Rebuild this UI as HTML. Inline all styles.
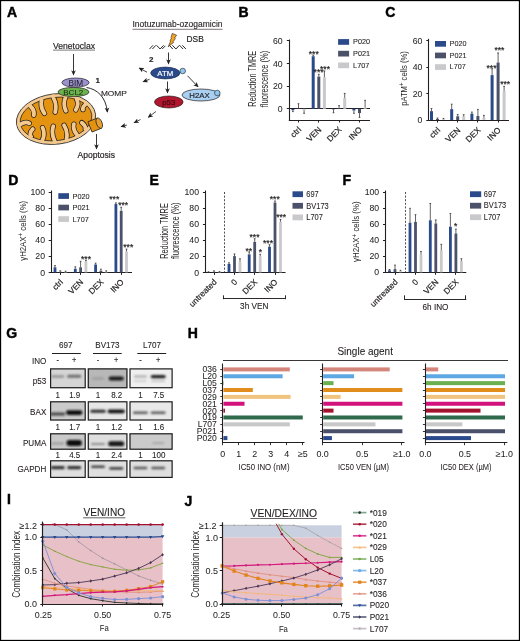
<!DOCTYPE html><html><head><meta charset="utf-8"><style>html,body{margin:0;padding:0;background:#fff;}svg{display:block;will-change:transform;}text{font-family:"Liberation Sans",sans-serif;}</style></head><body>
<svg width="520" height="641" viewBox="0 0 520 641">
<rect x="0" y="0" width="520" height="641" fill="#fff"/>
<defs>
<marker id="ah" viewBox="0 0 10 10" refX="8" refY="5" markerWidth="5.2" markerHeight="5.2" orient="auto" markerUnits="userSpaceOnUse"><path d="M0,0.5 L10,5 L0,9.5 L2.5,5 z" fill="#231f20"/></marker>
<marker id="ahs" viewBox="0 0 10 10" refX="8" refY="5" markerWidth="5.4" markerHeight="5.4" orient="auto" markerUnits="userSpaceOnUse"><path d="M0,0.5 L10,5 L0,9.5 L2.5,5 z" fill="#231f20"/></marker>
</defs>
<text x="7.00" y="17.40" font-size="14" text-anchor="start" fill="#000" stroke="#000" stroke-width="0.45" font-weight="bold" >A</text>
<text x="53.00" y="48.80" font-size="8.6" text-anchor="start" fill="#231f20" stroke="#231f20" stroke-width="0.18" textLength="42" lengthAdjust="spacingAndGlyphs" >Venetoclax</text>
<line x1="53.00" y1="50.10" x2="95.00" y2="50.10" stroke="#231f20" stroke-width="0.6" />
<line x1="73.50" y1="54.00" x2="73.50" y2="74.50" stroke="#231f20" stroke-width="0.9" marker-end="url(#ah)"/>
<defs><clipPath id="mitoIn"><ellipse cx="56.0" cy="119.0" rx="36.0" ry="21.599999999999998"/></clipPath><clipPath id="mitoOut"><ellipse cx="56.0" cy="119.0" rx="39.3" ry="24.7"/></clipPath></defs>
<g transform="rotate(-7 56.0 119.0)">
<ellipse cx="56.0" cy="119.0" rx="39.8" ry="25.2" fill="#f3c98f" stroke="#231f20" stroke-width="0.8"/>
<ellipse cx="56.0" cy="119.0" rx="36.0" ry="21.599999999999998" fill="#e3930f" stroke="#231f20" stroke-width="0.75"/>
<path d="M30.33,101.04 L32.00,102.90 Q36.20,107.73 34.40,112.56 M43.17,96.28 L44.00,98.64 Q41.60,105.36 45.20,112.08 M56.00,94.90 L56.00,97.40 Q59.00,104.74 56.00,112.09 M68.83,96.28 L68.00,98.64 Q64.40,105.36 66.80,112.08 M80.60,100.46 L79.00,102.38 Q80.85,107.37 76.70,112.35 M89.15,106.75 L87.00,108.02 Q83.45,110.49 83.90,112.96 M27.12,134.94 L29.00,133.29 Q27.35,129.72 31.70,126.14 M38.89,140.59 L40.00,138.35 Q43.80,132.16 41.60,125.97 M51.72,142.95 L52.00,140.47 Q49.20,133.17 52.40,125.87 M64.56,142.50 L64.00,140.06 Q66.60,133.11 63.20,126.16 M76.32,139.47 L75.00,137.35 Q71.05,131.84 73.10,126.34 M85.94,134.15 L84.00,132.58 Q84.60,129.18 81.20,125.79 M18.00,121.00 Q25.00,117.00 29.00,120.00" fill="none" stroke="#231f20" stroke-width="5.3" stroke-linecap="round" clip-path="url(#mitoIn)"/>
<path d="M30.33,101.04 L32.00,102.90 Q36.20,107.73 34.40,112.56 M43.17,96.28 L44.00,98.64 Q41.60,105.36 45.20,112.08 M56.00,94.90 L56.00,97.40 Q59.00,104.74 56.00,112.09 M68.83,96.28 L68.00,98.64 Q64.40,105.36 66.80,112.08 M80.60,100.46 L79.00,102.38 Q80.85,107.37 76.70,112.35 M89.15,106.75 L87.00,108.02 Q83.45,110.49 83.90,112.96 M27.12,134.94 L29.00,133.29 Q27.35,129.72 31.70,126.14 M38.89,140.59 L40.00,138.35 Q43.80,132.16 41.60,125.97 M51.72,142.95 L52.00,140.47 Q49.20,133.17 52.40,125.87 M64.56,142.50 L64.00,140.06 Q66.60,133.11 63.20,126.16 M76.32,139.47 L75.00,137.35 Q71.05,131.84 73.10,126.34 M85.94,134.15 L84.00,132.58 Q84.60,129.18 81.20,125.79 M18.00,121.00 Q25.00,117.00 29.00,120.00" fill="none" stroke="#f3c98f" stroke-width="3.8" stroke-linecap="round" clip-path="url(#mitoOut)"/>
</g>
<g transform="rotate(-22 96 124.5)">
<rect x="89.5" y="119" width="10" height="11" fill="#e3930f" stroke="#231f20" stroke-width="0.75"/>
<ellipse cx="99.5" cy="124.5" rx="2.8" ry="5.5" fill="#e8a030" stroke="#231f20" stroke-width="0.75"/>
</g>
<ellipse cx="73.5" cy="92" rx="15.5" ry="4.6" fill="#6cb34e" stroke="#231f20" stroke-width="0.7"/>
<text x="73.30" y="95.30" font-size="8.0" text-anchor="middle" fill="#1c2a14" stroke="#1c2a14" stroke-width="0.08" >BCL2</text>
<ellipse cx="75.5" cy="82.6" rx="13.6" ry="4.6" fill="#9a92cf" stroke="#231f20" stroke-width="0.7"/>
<text x="75.90" y="85.60" font-size="8.2" text-anchor="middle" fill="#231f20" stroke="#231f20" stroke-width="0.08" >BIM</text>
<text x="95.60" y="83.20" font-size="8" text-anchor="start" fill="#231f20" stroke="#231f20" stroke-width="0.18" font-weight="bold" >1</text>
<text x="100.90" y="95.50" font-size="8.0" text-anchor="start" fill="#231f20" stroke="#231f20" stroke-width="0.12" textLength="26" lengthAdjust="spacingAndGlyphs" >MOMP</text>
<path d="M86.5,87.5 C97,89 106,97 107.3,111.8" fill="none" stroke="#231f20" stroke-width="0.95" marker-end="url(#ah)"/>
<line x1="96.50" y1="134.00" x2="96.50" y2="148.50" stroke="#231f20" stroke-width="0.9" marker-end="url(#ah)"/>
<text x="77.50" y="157.60" font-size="8.6" text-anchor="start" fill="#231f20" stroke="#231f20" stroke-width="0.18" textLength="37.5" lengthAdjust="spacingAndGlyphs" >Apoptosis</text>
<text x="132.50" y="27.20" font-size="8.6" text-anchor="start" fill="#231f20" stroke="#231f20" stroke-width="0.12" textLength="90" lengthAdjust="spacingAndGlyphs" >Inotuzumab-ozogamicin</text>
<line x1="132.50" y1="29.30" x2="222.50" y2="29.30" stroke="#231f20" stroke-width="0.6" />
<path d="M172.3,33.4 L176.6,35.2 L174.6,38.0 L175.4,38.6 L173.0,41.8 L173.6,42.4 L168.2,46.8 L170.4,41.6 L169.8,41.0 L171.6,38.0 L171.0,37.4 Z" fill="#f2a31f" stroke="#231f20" stroke-width="0.6" stroke-linejoin="round"/>
<path d="M149.5,49 L153,45.3 M152.4,49 L155.9,45.3 M156.6,45.3 L160.1,49 L163.6,45.3 M162.2,49 L165.4,45.8 M169.6,45.6 L172.8,49 M172.4,45.3 L175.9,49 L179.4,45.3 M179.6,45.3 L183.1,49 M182.4,45.3 L185.9,49" fill="none" stroke="#231f20" stroke-width="0.95"/>
<text x="186.50" y="41.80" font-size="8.4" text-anchor="start" fill="#231f20" stroke="#231f20" stroke-width="0.18" >DSB</text>
<line x1="168.50" y1="52.50" x2="168.50" y2="63.50" stroke="#231f20" stroke-width="0.9" marker-end="url(#ah)"/>
<text x="148.90" y="62.00" font-size="8" text-anchor="start" fill="#231f20" stroke="#231f20" stroke-width="0.18" font-weight="bold" >2</text>
<ellipse cx="165.3" cy="73" rx="14.6" ry="5.9" fill="#2b4a8b" stroke="#1a2b50" stroke-width="0.7"/>
<text x="165.30" y="75.90" font-size="7.8" text-anchor="middle" fill="#ffffff" stroke="#ffffff" stroke-width="0.18" >ATM</text>
<circle cx="182.7" cy="71" r="2.8" fill="#8ec7ef" stroke="#231f20" stroke-width="0.6"/>
<path d="M147,72.2 L139.5,68.2" fill="none" stroke="#231f20" stroke-width="0.85" marker-end="url(#ahs)"/>
<path d="M149.5,79.3 L143.5,81.6" fill="none" stroke="#231f20" stroke-width="0.85" marker-end="url(#ahs)"/>
<line x1="167.50" y1="81.50" x2="167.50" y2="92.50" stroke="#231f20" stroke-width="0.9" marker-end="url(#ah)"/>
<line x1="187.50" y1="75.80" x2="197.80" y2="86.50" stroke="#231f20" stroke-width="0.9" marker-end="url(#ah)"/>
<ellipse cx="168.8" cy="102" rx="14.3" ry="6" fill="#b2172f" stroke="#231f20" stroke-width="0.7"/>
<text x="168.80" y="104.90" font-size="7.8" text-anchor="middle" fill="#3a0a12" stroke="#3a0a12" stroke-width="0.18" >p53</text>
<ellipse cx="201" cy="95" rx="19" ry="6" fill="#a9cff2" stroke="#231f20" stroke-width="0.7"/>
<text x="199.50" y="97.90" font-size="7.8" text-anchor="middle" fill="#231f20" stroke="#231f20" stroke-width="0.18" >H2AX</text>
<circle cx="217.3" cy="93" r="2.8" fill="#8ec7ef" stroke="#231f20" stroke-width="0.6"/>
<path d="M156,111.5 L148.5,117" fill="none" stroke="#231f20" stroke-width="0.8" marker-end="url(#ahs)"/>
<path d="M140.5,119.5 L134.5,122.5" fill="none" stroke="#231f20" stroke-width="0.8" marker-end="url(#ahs)"/>
<path d="M127,125 L121.5,126.5" fill="none" stroke="#231f20" stroke-width="0.8" marker-end="url(#ahs)"/>
<text x="238.50" y="17.20" font-size="14" text-anchor="start" fill="#000" stroke="#000" stroke-width="0.45" font-weight="bold" >B</text>
<line x1="289.50" y1="39.50" x2="289.50" y2="120.50" stroke="#231f20" stroke-width="1.1" />
<line x1="288.80" y1="120.50" x2="370.00" y2="120.50" stroke="#231f20" stroke-width="1.1" />
<line x1="289.30" y1="108.50" x2="370.00" y2="108.50" stroke="#231f20" stroke-width="1.1" />
<line x1="286.80" y1="108.50" x2="289.30" y2="108.50" stroke="#231f20" stroke-width="1" />
<text x="282.60" y="111.90" font-size="8.7" text-anchor="end" fill="#231f20" stroke="#231f20" stroke-width="0.05" >0</text>
<line x1="286.80" y1="86.50" x2="289.30" y2="86.50" stroke="#231f20" stroke-width="1" />
<text x="282.60" y="89.30" font-size="8.7" text-anchor="end" fill="#231f20" stroke="#231f20" stroke-width="0.05" >20</text>
<line x1="286.80" y1="63.50" x2="289.30" y2="63.50" stroke="#231f20" stroke-width="1" />
<text x="282.60" y="66.70" font-size="8.7" text-anchor="end" fill="#231f20" stroke="#231f20" stroke-width="0.05" >40</text>
<line x1="286.80" y1="40.50" x2="289.30" y2="40.50" stroke="#231f20" stroke-width="1" />
<text x="282.60" y="44.10" font-size="8.7" text-anchor="end" fill="#231f20" stroke="#231f20" stroke-width="0.05" >60</text>
<line x1="298.50" y1="120.00" x2="298.50" y2="122.50" stroke="#231f20" stroke-width="1" />
<rect x="291.40" y="108.80" width="3.00" height="1.36" fill="#2b4a8b" />
<line x1="292.90" y1="110.16" x2="292.90" y2="111.62" stroke="#231f20" stroke-width="0.7" />
<line x1="292.00" y1="111.62" x2="293.80" y2="111.62" stroke="#231f20" stroke-width="0.7" />
<rect x="297.00" y="108.46" width="3.00" height="0.34" fill="#4b5169" />
<line x1="298.50" y1="108.46" x2="298.50" y2="103.72" stroke="#231f20" stroke-width="0.7" />
<line x1="297.60" y1="103.72" x2="299.40" y2="103.72" stroke="#231f20" stroke-width="0.7" />
<rect x="302.60" y="108.80" width="3.00" height="1.70" fill="#c9c9cc" />
<line x1="304.10" y1="110.50" x2="304.10" y2="113.32" stroke="#231f20" stroke-width="0.7" />
<line x1="303.20" y1="113.32" x2="305.00" y2="113.32" stroke="#231f20" stroke-width="0.7" />
<line x1="318.50" y1="120.00" x2="318.50" y2="122.50" stroke="#231f20" stroke-width="1" />
<rect x="311.70" y="56.25" width="3.00" height="52.55" fill="#2b4a8b" />
<line x1="313.20" y1="56.25" x2="313.20" y2="55.12" stroke="#231f20" stroke-width="0.7" />
<line x1="312.30" y1="55.12" x2="314.10" y2="55.12" stroke="#231f20" stroke-width="0.7" />
<rect x="317.30" y="76.59" width="3.00" height="32.20" fill="#4b5169" />
<line x1="318.80" y1="76.59" x2="318.80" y2="74.33" stroke="#231f20" stroke-width="0.7" />
<line x1="317.90" y1="74.33" x2="319.70" y2="74.33" stroke="#231f20" stroke-width="0.7" />
<rect x="322.90" y="77.39" width="3.00" height="31.41" fill="#c9c9cc" />
<line x1="324.40" y1="77.39" x2="324.40" y2="70.94" stroke="#231f20" stroke-width="0.7" />
<line x1="323.50" y1="70.94" x2="325.30" y2="70.94" stroke="#231f20" stroke-width="0.7" />
<line x1="339.50" y1="120.00" x2="339.50" y2="122.50" stroke="#231f20" stroke-width="1" />
<rect x="332.00" y="108.80" width="3.00" height="0.56" fill="#2b4a8b" />
<line x1="333.50" y1="109.36" x2="333.50" y2="112.75" stroke="#231f20" stroke-width="0.7" />
<line x1="332.60" y1="112.75" x2="334.40" y2="112.75" stroke="#231f20" stroke-width="0.7" />
<rect x="337.60" y="108.12" width="3.00" height="0.68" fill="#4b5169" />
<line x1="339.10" y1="108.12" x2="339.10" y2="105.64" stroke="#231f20" stroke-width="0.7" />
<line x1="338.20" y1="105.64" x2="340.00" y2="105.64" stroke="#231f20" stroke-width="0.7" />
<rect x="343.20" y="98.06" width="3.00" height="10.73" fill="#c9c9cc" />
<line x1="344.70" y1="98.06" x2="344.70" y2="93.43" stroke="#231f20" stroke-width="0.7" />
<line x1="343.80" y1="93.43" x2="345.60" y2="93.43" stroke="#231f20" stroke-width="0.7" />
<line x1="359.50" y1="120.00" x2="359.50" y2="122.50" stroke="#231f20" stroke-width="1" />
<rect x="352.40" y="108.80" width="3.00" height="1.70" fill="#2b4a8b" />
<line x1="353.90" y1="110.50" x2="353.90" y2="113.32" stroke="#231f20" stroke-width="0.7" />
<line x1="353.00" y1="113.32" x2="354.80" y2="113.32" stroke="#231f20" stroke-width="0.7" />
<rect x="358.00" y="108.80" width="3.00" height="4.29" fill="#4b5169" />
<line x1="359.50" y1="113.09" x2="359.50" y2="117.39" stroke="#231f20" stroke-width="0.7" />
<line x1="358.60" y1="117.39" x2="360.40" y2="117.39" stroke="#231f20" stroke-width="0.7" />
<rect x="363.60" y="107.67" width="3.00" height="1.13" fill="#c9c9cc" />
<line x1="365.10" y1="107.67" x2="365.10" y2="100.32" stroke="#231f20" stroke-width="0.7" />
<line x1="364.20" y1="100.32" x2="366.00" y2="100.32" stroke="#231f20" stroke-width="0.7" />
<rect x="338.10" y="39.10" width="11.00" height="5.70" fill="#2b4a8b" />
<text x="353.10" y="44.20" font-size="7.3" text-anchor="start" fill="#231f20" stroke="#231f20" stroke-width="0.08" >P020</text>
<rect x="338.10" y="50.80" width="11.00" height="5.70" fill="#4b5169" />
<text x="353.10" y="55.90" font-size="7.3" text-anchor="start" fill="#231f20" stroke="#231f20" stroke-width="0.08" >P021</text>
<rect x="338.10" y="62.50" width="11.00" height="5.70" fill="#c9c9cc" />
<text x="353.10" y="67.60" font-size="7.3" text-anchor="start" fill="#231f20" stroke="#231f20" stroke-width="0.08" >L707</text>
<text transform="translate(256.40 78.70) rotate(-90) scale(0.7373 1)" x="0" y="0" font-size="10.0" text-anchor="middle" fill="#231f20"><tspan>Reduction TMRE</tspan></text>
<text transform="translate(267.90 79.00) rotate(-90) scale(0.7531 1)" x="0" y="0" font-size="10.0" text-anchor="middle" fill="#231f20"><tspan>fluorescence (%)</tspan></text>
<text x="313.80" y="56.97" font-size="8.6" text-anchor="middle" fill="#231f20" stroke="#231f20" stroke-width="0.2" >***</text>
<text x="318.60" y="75.27" font-size="8.6" text-anchor="middle" fill="#231f20" stroke="#231f20" stroke-width="0.2" >***</text>
<text x="325.00" y="71.97" font-size="8.6" text-anchor="middle" fill="#231f20" stroke="#231f20" stroke-width="0.2" >***</text>
<text x="301.70" y="130.20" font-size="8.3" text-anchor="end" fill="#231f20" transform="rotate(-45 301.70 130.20)" stroke="#231f20" stroke-width="0.18" >ctrl</text>
<text x="322.00" y="130.20" font-size="8.3" text-anchor="end" fill="#231f20" transform="rotate(-45 322.00 130.20)" stroke="#231f20" stroke-width="0.18" >VEN</text>
<text x="342.30" y="130.20" font-size="8.3" text-anchor="end" fill="#231f20" transform="rotate(-45 342.30 130.20)" stroke="#231f20" stroke-width="0.18" >DEX</text>
<text x="362.70" y="130.20" font-size="8.3" text-anchor="end" fill="#231f20" transform="rotate(-45 362.70 130.20)" stroke="#231f20" stroke-width="0.18" >INO</text>
<text x="385.20" y="17.40" font-size="14" text-anchor="start" fill="#000" stroke="#000" stroke-width="0.45" font-weight="bold" >C</text>
<line x1="428.50" y1="38.80" x2="428.50" y2="120.50" stroke="#231f20" stroke-width="1.1" />
<line x1="428.30" y1="120.50" x2="509.00" y2="120.50" stroke="#231f20" stroke-width="1.1" />
<line x1="426.30" y1="120.50" x2="428.80" y2="120.50" stroke="#231f20" stroke-width="1" />
<text x="422.30" y="123.10" font-size="8.7" text-anchor="end" fill="#231f20" stroke="#231f20" stroke-width="0.05" >0</text>
<line x1="426.30" y1="93.50" x2="428.80" y2="93.50" stroke="#231f20" stroke-width="1" />
<text x="422.30" y="96.70" font-size="8.7" text-anchor="end" fill="#231f20" stroke="#231f20" stroke-width="0.05" >20</text>
<line x1="426.30" y1="67.50" x2="428.80" y2="67.50" stroke="#231f20" stroke-width="1" />
<text x="422.30" y="70.30" font-size="8.7" text-anchor="end" fill="#231f20" stroke="#231f20" stroke-width="0.05" >40</text>
<line x1="426.30" y1="40.50" x2="428.80" y2="40.50" stroke="#231f20" stroke-width="1" />
<text x="422.30" y="43.90" font-size="8.7" text-anchor="end" fill="#231f20" stroke="#231f20" stroke-width="0.05" >60</text>
<line x1="437.50" y1="120.00" x2="437.50" y2="122.50" stroke="#231f20" stroke-width="1" />
<rect x="430.00" y="111.16" width="3.00" height="8.84" fill="#2b4a8b" />
<line x1="431.50" y1="111.16" x2="431.50" y2="108.52" stroke="#231f20" stroke-width="0.7" />
<line x1="430.60" y1="108.52" x2="432.40" y2="108.52" stroke="#231f20" stroke-width="0.7" />
<rect x="436.00" y="118.94" width="3.00" height="1.06" fill="#4b5169" />
<line x1="437.50" y1="118.94" x2="437.50" y2="118.02" stroke="#231f20" stroke-width="0.7" />
<line x1="436.60" y1="118.02" x2="438.40" y2="118.02" stroke="#231f20" stroke-width="0.7" />
<rect x="442.00" y="119.21" width="3.00" height="0.79" fill="#c9c9cc" />
<line x1="443.50" y1="119.21" x2="443.50" y2="118.42" stroke="#231f20" stroke-width="0.7" />
<line x1="442.60" y1="118.42" x2="444.40" y2="118.42" stroke="#231f20" stroke-width="0.7" />
<line x1="457.50" y1="120.00" x2="457.50" y2="122.50" stroke="#231f20" stroke-width="1" />
<rect x="450.20" y="109.18" width="3.00" height="10.82" fill="#2b4a8b" />
<line x1="451.70" y1="109.18" x2="451.70" y2="104.16" stroke="#231f20" stroke-width="0.7" />
<line x1="450.80" y1="104.16" x2="452.60" y2="104.16" stroke="#231f20" stroke-width="0.7" />
<rect x="456.20" y="116.30" width="3.00" height="3.70" fill="#4b5169" />
<line x1="457.70" y1="116.30" x2="457.70" y2="114.46" stroke="#231f20" stroke-width="0.7" />
<line x1="456.80" y1="114.46" x2="458.60" y2="114.46" stroke="#231f20" stroke-width="0.7" />
<rect x="462.20" y="116.57" width="3.00" height="3.43" fill="#c9c9cc" />
<line x1="463.70" y1="116.57" x2="463.70" y2="114.72" stroke="#231f20" stroke-width="0.7" />
<line x1="462.80" y1="114.72" x2="464.60" y2="114.72" stroke="#231f20" stroke-width="0.7" />
<line x1="477.50" y1="120.00" x2="477.50" y2="122.50" stroke="#231f20" stroke-width="1" />
<rect x="470.40" y="113.66" width="3.00" height="6.34" fill="#2b4a8b" />
<line x1="471.90" y1="113.66" x2="471.90" y2="112.08" stroke="#231f20" stroke-width="0.7" />
<line x1="471.00" y1="112.08" x2="472.80" y2="112.08" stroke="#231f20" stroke-width="0.7" />
<rect x="476.40" y="116.04" width="3.00" height="3.96" fill="#4b5169" />
<line x1="477.90" y1="116.04" x2="477.90" y2="109.44" stroke="#231f20" stroke-width="0.7" />
<line x1="477.00" y1="109.44" x2="478.80" y2="109.44" stroke="#231f20" stroke-width="0.7" />
<rect x="482.40" y="118.02" width="3.00" height="1.98" fill="#c9c9cc" />
<line x1="483.90" y1="118.02" x2="483.90" y2="115.38" stroke="#231f20" stroke-width="0.7" />
<line x1="483.00" y1="115.38" x2="484.80" y2="115.38" stroke="#231f20" stroke-width="0.7" />
<line x1="498.50" y1="120.00" x2="498.50" y2="122.50" stroke="#231f20" stroke-width="1" />
<rect x="490.60" y="75.12" width="3.00" height="44.88" fill="#2b4a8b" />
<line x1="492.10" y1="75.12" x2="492.10" y2="68.78" stroke="#231f20" stroke-width="0.7" />
<line x1="491.20" y1="68.78" x2="493.00" y2="68.78" stroke="#231f20" stroke-width="0.7" />
<rect x="496.60" y="62.58" width="3.00" height="57.42" fill="#4b5169" />
<line x1="498.10" y1="62.58" x2="498.10" y2="52.94" stroke="#231f20" stroke-width="0.7" />
<line x1="497.20" y1="52.94" x2="499.00" y2="52.94" stroke="#231f20" stroke-width="0.7" />
<rect x="502.60" y="91.22" width="3.00" height="28.78" fill="#c9c9cc" />
<line x1="504.10" y1="91.22" x2="504.10" y2="86.34" stroke="#231f20" stroke-width="0.7" />
<line x1="503.20" y1="86.34" x2="505.00" y2="86.34" stroke="#231f20" stroke-width="0.7" />
<rect x="435.00" y="41.00" width="11.00" height="5.70" fill="#2b4a8b" />
<text x="0" y="0" font-size="7.8" text-anchor="start" fill="#231f20" transform="translate(449.60 46.20) scale(0.93 1)" stroke="#231f20" stroke-width="0.08" >P020</text>
<rect x="435.00" y="52.60" width="11.00" height="5.70" fill="#4b5169" />
<text x="0" y="0" font-size="7.8" text-anchor="start" fill="#231f20" transform="translate(449.60 57.80) scale(0.93 1)" stroke="#231f20" stroke-width="0.08" >P021</text>
<rect x="435.00" y="64.20" width="11.00" height="5.70" fill="#c9c9cc" />
<text x="0" y="0" font-size="7.8" text-anchor="start" fill="#231f20" transform="translate(449.60 69.40) scale(0.93 1)" stroke="#231f20" stroke-width="0.08" >L707</text>
<text transform="translate(407.20 78.50) rotate(-90) scale(0.8129 1)" x="0" y="0" font-size="9.4" text-anchor="middle" fill="#231f20"><tspan>pATM</tspan><tspan dy="-2.82" font-size="7.52">+</tspan><tspan dy="2.82"> cells (%)</tspan></text>
<text x="491.50" y="70.77" font-size="8.6" text-anchor="middle" fill="#231f20" stroke="#231f20" stroke-width="0.2" >***</text>
<text x="499.40" y="53.27" font-size="8.6" text-anchor="middle" fill="#231f20" stroke="#231f20" stroke-width="0.2" >***</text>
<text x="505.20" y="86.97" font-size="8.6" text-anchor="middle" fill="#231f20" stroke="#231f20" stroke-width="0.2" >***</text>
<text x="440.70" y="130.70" font-size="8.3" text-anchor="end" fill="#231f20" transform="rotate(-45 440.70 130.70)" stroke="#231f20" stroke-width="0.18" >ctrl</text>
<text x="460.90" y="130.70" font-size="8.3" text-anchor="end" fill="#231f20" transform="rotate(-45 460.90 130.70)" stroke="#231f20" stroke-width="0.18" >VEN</text>
<text x="481.10" y="130.70" font-size="8.3" text-anchor="end" fill="#231f20" transform="rotate(-45 481.10 130.70)" stroke="#231f20" stroke-width="0.18" >DEX</text>
<text x="501.30" y="130.70" font-size="8.3" text-anchor="end" fill="#231f20" transform="rotate(-45 501.30 130.70)" stroke="#231f20" stroke-width="0.18" >INO</text>
<text x="8.20" y="185.40" font-size="14" text-anchor="start" fill="#000" stroke="#000" stroke-width="0.45" font-weight="bold" >D</text>
<line x1="51.50" y1="190.50" x2="51.50" y2="272.90" stroke="#231f20" stroke-width="1.1" />
<line x1="50.70" y1="272.50" x2="132.00" y2="272.50" stroke="#231f20" stroke-width="1.1" />
<line x1="48.70" y1="272.50" x2="51.20" y2="272.50" stroke="#231f20" stroke-width="1" />
<text x="45.00" y="275.50" font-size="8.7" text-anchor="end" fill="#231f20" stroke="#231f20" stroke-width="0.05" >0</text>
<line x1="48.70" y1="256.50" x2="51.20" y2="256.50" stroke="#231f20" stroke-width="1" />
<text x="45.00" y="259.42" font-size="8.7" text-anchor="end" fill="#231f20" stroke="#231f20" stroke-width="0.05" >20</text>
<line x1="48.70" y1="240.50" x2="51.20" y2="240.50" stroke="#231f20" stroke-width="1" />
<text x="45.00" y="243.34" font-size="8.7" text-anchor="end" fill="#231f20" stroke="#231f20" stroke-width="0.05" >40</text>
<line x1="48.70" y1="224.50" x2="51.20" y2="224.50" stroke="#231f20" stroke-width="1" />
<text x="45.00" y="227.26" font-size="8.7" text-anchor="end" fill="#231f20" stroke="#231f20" stroke-width="0.05" >60</text>
<line x1="48.70" y1="208.50" x2="51.20" y2="208.50" stroke="#231f20" stroke-width="1" />
<text x="45.00" y="211.18" font-size="8.7" text-anchor="end" fill="#231f20" stroke="#231f20" stroke-width="0.05" >80</text>
<line x1="48.70" y1="192.50" x2="51.20" y2="192.50" stroke="#231f20" stroke-width="1" />
<text x="45.00" y="195.10" font-size="8.7" text-anchor="end" fill="#231f20" stroke="#231f20" stroke-width="0.05" >100</text>
<line x1="60.50" y1="272.40" x2="60.50" y2="274.90" stroke="#231f20" stroke-width="1" />
<rect x="53.60" y="267.33" width="2.80" height="5.07" fill="#2b4a8b" />
<line x1="55.00" y1="267.33" x2="55.00" y2="265.57" stroke="#231f20" stroke-width="0.7" />
<line x1="54.10" y1="265.57" x2="55.90" y2="265.57" stroke="#231f20" stroke-width="0.7" />
<rect x="58.90" y="271.76" width="2.80" height="0.64" fill="#4b5169" />
<line x1="60.30" y1="271.76" x2="60.30" y2="270.79" stroke="#231f20" stroke-width="0.7" />
<line x1="59.40" y1="270.79" x2="61.20" y2="270.79" stroke="#231f20" stroke-width="0.7" />
<rect x="64.20" y="272.00" width="2.80" height="0.40" fill="#c9c9cc" />
<line x1="65.60" y1="272.00" x2="65.60" y2="271.19" stroke="#231f20" stroke-width="0.7" />
<line x1="64.70" y1="271.19" x2="66.50" y2="271.19" stroke="#231f20" stroke-width="0.7" />
<line x1="80.50" y1="272.40" x2="80.50" y2="274.90" stroke="#231f20" stroke-width="1" />
<rect x="73.90" y="268.78" width="2.80" height="3.62" fill="#2b4a8b" />
<line x1="75.30" y1="268.78" x2="75.30" y2="266.77" stroke="#231f20" stroke-width="0.7" />
<line x1="74.40" y1="266.77" x2="76.20" y2="266.77" stroke="#231f20" stroke-width="0.7" />
<rect x="79.20" y="267.33" width="2.80" height="5.07" fill="#4b5169" />
<line x1="80.60" y1="267.33" x2="80.60" y2="261.30" stroke="#231f20" stroke-width="0.7" />
<line x1="79.70" y1="261.30" x2="81.50" y2="261.30" stroke="#231f20" stroke-width="0.7" />
<rect x="84.50" y="261.30" width="2.80" height="11.10" fill="#c9c9cc" />
<line x1="85.90" y1="261.30" x2="85.90" y2="260.34" stroke="#231f20" stroke-width="0.7" />
<line x1="85.00" y1="260.34" x2="86.80" y2="260.34" stroke="#231f20" stroke-width="0.7" />
<line x1="100.50" y1="272.40" x2="100.50" y2="274.90" stroke="#231f20" stroke-width="1" />
<rect x="94.20" y="264.52" width="2.80" height="7.88" fill="#2b4a8b" />
<line x1="95.60" y1="264.52" x2="95.60" y2="263.15" stroke="#231f20" stroke-width="0.7" />
<line x1="94.70" y1="263.15" x2="96.50" y2="263.15" stroke="#231f20" stroke-width="0.7" />
<rect x="99.50" y="270.79" width="2.80" height="1.61" fill="#4b5169" />
<line x1="100.90" y1="270.79" x2="100.90" y2="269.18" stroke="#231f20" stroke-width="0.7" />
<line x1="100.00" y1="269.18" x2="101.80" y2="269.18" stroke="#231f20" stroke-width="0.7" />
<rect x="104.80" y="272.00" width="2.80" height="0.40" fill="#c9c9cc" />
<line x1="106.20" y1="272.00" x2="106.20" y2="270.79" stroke="#231f20" stroke-width="0.7" />
<line x1="105.30" y1="270.79" x2="107.10" y2="270.79" stroke="#231f20" stroke-width="0.7" />
<line x1="121.50" y1="272.40" x2="121.50" y2="274.90" stroke="#231f20" stroke-width="1" />
<rect x="114.50" y="204.06" width="2.80" height="68.34" fill="#2b4a8b" />
<line x1="115.90" y1="204.06" x2="115.90" y2="202.85" stroke="#231f20" stroke-width="0.7" />
<line x1="115.00" y1="202.85" x2="116.80" y2="202.85" stroke="#231f20" stroke-width="0.7" />
<rect x="119.80" y="210.89" width="2.80" height="61.51" fill="#4b5169" />
<line x1="121.20" y1="210.89" x2="121.20" y2="207.28" stroke="#231f20" stroke-width="0.7" />
<line x1="120.30" y1="207.28" x2="122.10" y2="207.28" stroke="#231f20" stroke-width="0.7" />
<rect x="125.10" y="251.50" width="2.80" height="20.90" fill="#c9c9cc" />
<line x1="126.50" y1="251.50" x2="126.50" y2="249.08" stroke="#231f20" stroke-width="0.7" />
<line x1="125.60" y1="249.08" x2="127.40" y2="249.08" stroke="#231f20" stroke-width="0.7" />
<rect x="58.30" y="193.20" width="10.70" height="5.70" fill="#2b4a8b" />
<text x="0" y="0" font-size="7.9" text-anchor="start" fill="#231f20" transform="translate(72.50 198.60) scale(0.93 1)" stroke="#231f20" stroke-width="0.08" >P020</text>
<rect x="58.30" y="204.70" width="10.70" height="5.70" fill="#4b5169" />
<text x="0" y="0" font-size="7.9" text-anchor="start" fill="#231f20" transform="translate(72.50 210.10) scale(0.93 1)" stroke="#231f20" stroke-width="0.08" >P021</text>
<rect x="58.30" y="216.20" width="10.70" height="5.70" fill="#c9c9cc" />
<text x="0" y="0" font-size="7.9" text-anchor="start" fill="#231f20" transform="translate(72.50 221.60) scale(0.93 1)" stroke="#231f20" stroke-width="0.08" >L707</text>
<text transform="translate(25.80 230.80) rotate(-90) scale(0.8668 1)" x="0" y="0" font-size="9.0" text-anchor="middle" fill="#231f20"><tspan>γH2AX</tspan><tspan dy="-2.70" font-size="7.20">+</tspan><tspan dy="2.70"> cells (%)</tspan></text>
<text x="114.30" y="202.47" font-size="8.6" text-anchor="middle" fill="#231f20" stroke="#231f20" stroke-width="0.2" >***</text>
<text x="123.20" y="208.17" font-size="8.6" text-anchor="middle" fill="#231f20" stroke="#231f20" stroke-width="0.2" >***</text>
<text x="128.30" y="250.07" font-size="8.6" text-anchor="middle" fill="#231f20" stroke="#231f20" stroke-width="0.2" >***</text>
<text x="86.00" y="261.67" font-size="8.6" text-anchor="middle" fill="#231f20" stroke="#231f20" stroke-width="0.2" >***</text>
<text x="63.50" y="282.60" font-size="8.3" text-anchor="end" fill="#231f20" transform="rotate(-45 63.50 282.60)" stroke="#231f20" stroke-width="0.18" >ctrl</text>
<text x="83.80" y="282.60" font-size="8.3" text-anchor="end" fill="#231f20" transform="rotate(-45 83.80 282.60)" stroke="#231f20" stroke-width="0.18" >VEN</text>
<text x="104.10" y="282.60" font-size="8.3" text-anchor="end" fill="#231f20" transform="rotate(-45 104.10 282.60)" stroke="#231f20" stroke-width="0.18" >DEX</text>
<text x="124.40" y="282.60" font-size="8.3" text-anchor="end" fill="#231f20" transform="rotate(-45 124.40 282.60)" stroke="#231f20" stroke-width="0.18" >INO</text>
<text x="149.50" y="185.40" font-size="14" text-anchor="start" fill="#000" stroke="#000" stroke-width="0.45" font-weight="bold" >E</text>
<line x1="205.50" y1="190.50" x2="205.50" y2="272.90" stroke="#231f20" stroke-width="1.1" />
<line x1="204.90" y1="272.50" x2="285.50" y2="272.50" stroke="#231f20" stroke-width="1.1" />
<line x1="202.90" y1="272.50" x2="205.40" y2="272.50" stroke="#231f20" stroke-width="1" />
<text x="199.00" y="275.50" font-size="8.7" text-anchor="end" fill="#231f20" stroke="#231f20" stroke-width="0.05" >0</text>
<line x1="202.90" y1="256.50" x2="205.40" y2="256.50" stroke="#231f20" stroke-width="1" />
<text x="199.00" y="259.45" font-size="8.7" text-anchor="end" fill="#231f20" stroke="#231f20" stroke-width="0.05" >20</text>
<line x1="202.90" y1="240.50" x2="205.40" y2="240.50" stroke="#231f20" stroke-width="1" />
<text x="199.00" y="243.40" font-size="8.7" text-anchor="end" fill="#231f20" stroke="#231f20" stroke-width="0.05" >40</text>
<line x1="202.90" y1="224.50" x2="205.40" y2="224.50" stroke="#231f20" stroke-width="1" />
<text x="199.00" y="227.35" font-size="8.7" text-anchor="end" fill="#231f20" stroke="#231f20" stroke-width="0.05" >60</text>
<line x1="202.90" y1="208.50" x2="205.40" y2="208.50" stroke="#231f20" stroke-width="1" />
<text x="199.00" y="211.30" font-size="8.7" text-anchor="end" fill="#231f20" stroke="#231f20" stroke-width="0.05" >80</text>
<line x1="202.90" y1="192.50" x2="205.40" y2="192.50" stroke="#231f20" stroke-width="1" />
<text x="199.00" y="195.25" font-size="8.7" text-anchor="end" fill="#231f20" stroke="#231f20" stroke-width="0.05" >100</text>
<line x1="214.50" y1="272.40" x2="214.50" y2="274.90" stroke="#231f20" stroke-width="1" />
<rect x="207.10" y="272.08" width="2.80" height="0.32" fill="#2b4a8b" />
<line x1="208.50" y1="272.08" x2="208.50" y2="271.76" stroke="#231f20" stroke-width="0.7" />
<line x1="207.60" y1="271.76" x2="209.40" y2="271.76" stroke="#231f20" stroke-width="0.7" />
<rect x="212.60" y="271.76" width="2.80" height="0.64" fill="#4b5169" />
<line x1="214.00" y1="271.76" x2="214.00" y2="270.79" stroke="#231f20" stroke-width="0.7" />
<line x1="213.10" y1="270.79" x2="214.90" y2="270.79" stroke="#231f20" stroke-width="0.7" />
<rect x="218.10" y="272.00" width="2.80" height="0.40" fill="#c9c9cc" />
<line x1="219.50" y1="272.00" x2="219.50" y2="271.60" stroke="#231f20" stroke-width="0.7" />
<line x1="218.60" y1="271.60" x2="220.40" y2="271.60" stroke="#231f20" stroke-width="0.7" />
<line x1="234.50" y1="272.40" x2="234.50" y2="274.90" stroke="#231f20" stroke-width="1" />
<rect x="227.60" y="263.97" width="2.80" height="8.43" fill="#2b4a8b" />
<line x1="229.00" y1="263.97" x2="229.00" y2="262.77" stroke="#231f20" stroke-width="0.7" />
<line x1="228.10" y1="262.77" x2="229.90" y2="262.77" stroke="#231f20" stroke-width="0.7" />
<rect x="233.10" y="256.11" width="2.80" height="16.29" fill="#4b5169" />
<line x1="234.50" y1="256.11" x2="234.50" y2="253.94" stroke="#231f20" stroke-width="0.7" />
<line x1="233.60" y1="253.94" x2="235.40" y2="253.94" stroke="#231f20" stroke-width="0.7" />
<rect x="238.60" y="261.73" width="2.80" height="10.67" fill="#c9c9cc" />
<line x1="240.00" y1="261.73" x2="240.00" y2="258.76" stroke="#231f20" stroke-width="0.7" />
<line x1="239.10" y1="258.76" x2="240.90" y2="258.76" stroke="#231f20" stroke-width="0.7" />
<line x1="254.50" y1="272.40" x2="254.50" y2="274.90" stroke="#231f20" stroke-width="1" />
<rect x="247.80" y="254.42" width="2.80" height="17.98" fill="#2b4a8b" />
<line x1="249.20" y1="254.42" x2="249.20" y2="251.94" stroke="#231f20" stroke-width="0.7" />
<line x1="248.30" y1="251.94" x2="250.10" y2="251.94" stroke="#231f20" stroke-width="0.7" />
<rect x="253.30" y="241.90" width="2.80" height="30.50" fill="#4b5169" />
<line x1="254.70" y1="241.90" x2="254.70" y2="238.69" stroke="#231f20" stroke-width="0.7" />
<line x1="253.80" y1="238.69" x2="255.60" y2="238.69" stroke="#231f20" stroke-width="0.7" />
<rect x="258.80" y="256.35" width="2.80" height="16.05" fill="#c9c9cc" />
<line x1="260.20" y1="256.35" x2="260.20" y2="254.34" stroke="#231f20" stroke-width="0.7" />
<line x1="259.30" y1="254.34" x2="261.10" y2="254.34" stroke="#231f20" stroke-width="0.7" />
<line x1="275.50" y1="272.40" x2="275.50" y2="274.90" stroke="#231f20" stroke-width="1" />
<rect x="268.10" y="246.72" width="2.80" height="25.68" fill="#2b4a8b" />
<line x1="269.50" y1="246.72" x2="269.50" y2="244.71" stroke="#231f20" stroke-width="0.7" />
<line x1="268.60" y1="244.71" x2="270.40" y2="244.71" stroke="#231f20" stroke-width="0.7" />
<rect x="273.60" y="202.58" width="2.80" height="69.82" fill="#4b5169" />
<line x1="275.00" y1="202.58" x2="275.00" y2="200.98" stroke="#231f20" stroke-width="0.7" />
<line x1="274.10" y1="200.98" x2="275.90" y2="200.98" stroke="#231f20" stroke-width="0.7" />
<rect x="279.10" y="221.84" width="2.80" height="50.56" fill="#c9c9cc" />
<line x1="280.50" y1="221.84" x2="280.50" y2="219.43" stroke="#231f20" stroke-width="0.7" />
<line x1="279.60" y1="219.43" x2="281.40" y2="219.43" stroke="#231f20" stroke-width="0.7" />
<line x1="224.50" y1="192.00" x2="224.50" y2="272.00" stroke="#231f20" stroke-width="0.8" stroke-dasharray="2,1.6"/>
<rect x="292.50" y="191.30" width="10.50" height="5.80" fill="#2b4a8b" />
<text x="0" y="0" font-size="8.3" text-anchor="start" fill="#231f20" transform="translate(306.30 196.90) scale(0.9 1)" stroke="#231f20" stroke-width="0.08" >697</text>
<rect x="292.50" y="202.90" width="10.50" height="5.80" fill="#4b5169" />
<text x="0" y="0" font-size="8.3" text-anchor="start" fill="#231f20" transform="translate(306.30 208.50) scale(0.9 1)" stroke="#231f20" stroke-width="0.08" >BV173</text>
<rect x="292.50" y="214.50" width="10.50" height="5.80" fill="#c9c9cc" />
<text x="0" y="0" font-size="8.3" text-anchor="start" fill="#231f20" transform="translate(306.30 220.10) scale(0.9 1)" stroke="#231f20" stroke-width="0.08" >L707</text>
<text transform="translate(167.60 231.00) rotate(-90) scale(0.7333 1)" x="0" y="0" font-size="10.0" text-anchor="middle" fill="#231f20"><tspan>Reduction TMRE</tspan></text>
<text transform="translate(178.60 230.80) rotate(-90) scale(0.7531 1)" x="0" y="0" font-size="10.0" text-anchor="middle" fill="#231f20"><tspan>fluorescence (%)</tspan></text>
<text x="248.75" y="253.97" font-size="8.6" text-anchor="middle" fill="#231f20" stroke="#231f20" stroke-width="0.2" >**</text>
<text x="254.50" y="240.22" font-size="8.6" text-anchor="middle" fill="#231f20" stroke="#231f20" stroke-width="0.2" >***</text>
<text x="260.50" y="254.97" font-size="8.6" text-anchor="middle" fill="#231f20" stroke="#231f20" stroke-width="0.2" >*</text>
<text x="268.00" y="245.72" font-size="8.6" text-anchor="middle" fill="#231f20" stroke="#231f20" stroke-width="0.2" >***</text>
<text x="274.80" y="201.97" font-size="8.6" text-anchor="middle" fill="#231f20" stroke="#231f20" stroke-width="0.2" >***</text>
<text x="281.20" y="220.22" font-size="8.6" text-anchor="middle" fill="#231f20" stroke="#231f20" stroke-width="0.2" >***</text>
<text x="217.20" y="282.60" font-size="8.3" text-anchor="end" fill="#231f20" transform="rotate(-45 217.20 282.60)" stroke="#231f20" stroke-width="0.18" >untreated</text>
<text x="237.70" y="282.60" font-size="8.3" text-anchor="end" fill="#231f20" transform="rotate(-45 237.70 282.60)" stroke="#231f20" stroke-width="0.18" >0</text>
<text x="257.90" y="282.60" font-size="8.3" text-anchor="end" fill="#231f20" transform="rotate(-45 257.90 282.60)" stroke="#231f20" stroke-width="0.18" >DEX</text>
<text x="278.20" y="282.60" font-size="8.3" text-anchor="end" fill="#231f20" transform="rotate(-45 278.20 282.60)" stroke="#231f20" stroke-width="0.18" >INO</text>
<line x1="223.00" y1="298.50" x2="285.50" y2="298.50" stroke="#231f20" stroke-width="0.95" />
<line x1="223.50" y1="295.30" x2="223.50" y2="299.20" stroke="#231f20" stroke-width="0.95" />
<line x1="285.50" y1="295.30" x2="285.50" y2="299.20" stroke="#231f20" stroke-width="0.95" />
<text x="254.20" y="309.40" font-size="8.2" text-anchor="middle" fill="#231f20" stroke="#231f20" stroke-width="0.1" >3h VEN</text>
<text x="342.50" y="185.20" font-size="14" text-anchor="start" fill="#000" stroke="#000" stroke-width="0.45" font-weight="bold" >F</text>
<line x1="385.50" y1="190.50" x2="385.50" y2="272.80" stroke="#231f20" stroke-width="1.1" />
<line x1="385.00" y1="272.50" x2="466.30" y2="272.50" stroke="#231f20" stroke-width="1.1" />
<line x1="383.00" y1="272.50" x2="385.50" y2="272.50" stroke="#231f20" stroke-width="1" />
<text x="379.20" y="275.40" font-size="8.7" text-anchor="end" fill="#231f20" stroke="#231f20" stroke-width="0.05" >0</text>
<line x1="383.00" y1="256.50" x2="385.50" y2="256.50" stroke="#231f20" stroke-width="1" />
<text x="379.20" y="259.40" font-size="8.7" text-anchor="end" fill="#231f20" stroke="#231f20" stroke-width="0.05" >20</text>
<line x1="383.00" y1="240.50" x2="385.50" y2="240.50" stroke="#231f20" stroke-width="1" />
<text x="379.20" y="243.40" font-size="8.7" text-anchor="end" fill="#231f20" stroke="#231f20" stroke-width="0.05" >40</text>
<line x1="383.00" y1="224.50" x2="385.50" y2="224.50" stroke="#231f20" stroke-width="1" />
<text x="379.20" y="227.40" font-size="8.7" text-anchor="end" fill="#231f20" stroke="#231f20" stroke-width="0.05" >60</text>
<line x1="383.00" y1="208.50" x2="385.50" y2="208.50" stroke="#231f20" stroke-width="1" />
<text x="379.20" y="211.40" font-size="8.7" text-anchor="end" fill="#231f20" stroke="#231f20" stroke-width="0.05" >80</text>
<line x1="383.00" y1="192.50" x2="385.50" y2="192.50" stroke="#231f20" stroke-width="1" />
<text x="379.20" y="195.40" font-size="8.7" text-anchor="end" fill="#231f20" stroke="#231f20" stroke-width="0.05" >100</text>
<line x1="395.50" y1="272.30" x2="395.50" y2="274.80" stroke="#231f20" stroke-width="1" />
<rect x="388.10" y="270.30" width="2.80" height="2.00" fill="#2b4a8b" />
<line x1="389.50" y1="270.30" x2="389.50" y2="269.50" stroke="#231f20" stroke-width="0.7" />
<line x1="388.60" y1="269.50" x2="390.40" y2="269.50" stroke="#231f20" stroke-width="0.7" />
<rect x="393.60" y="269.10" width="2.80" height="3.20" fill="#4b5169" />
<line x1="395.00" y1="269.10" x2="395.00" y2="265.10" stroke="#231f20" stroke-width="0.7" />
<line x1="394.10" y1="265.10" x2="395.90" y2="265.10" stroke="#231f20" stroke-width="0.7" />
<rect x="399.10" y="271.10" width="2.80" height="1.20" fill="#c9c9cc" />
<line x1="400.50" y1="271.10" x2="400.50" y2="270.30" stroke="#231f20" stroke-width="0.7" />
<line x1="399.60" y1="270.30" x2="401.40" y2="270.30" stroke="#231f20" stroke-width="0.7" />
<line x1="415.50" y1="272.30" x2="415.50" y2="274.80" stroke="#231f20" stroke-width="1" />
<rect x="408.60" y="222.70" width="2.80" height="49.60" fill="#2b4a8b" />
<line x1="410.00" y1="222.70" x2="410.00" y2="208.30" stroke="#231f20" stroke-width="0.7" />
<line x1="409.10" y1="208.30" x2="410.90" y2="208.30" stroke="#231f20" stroke-width="0.7" />
<rect x="414.10" y="221.90" width="2.80" height="50.40" fill="#4b5169" />
<line x1="415.50" y1="221.90" x2="415.50" y2="214.70" stroke="#231f20" stroke-width="0.7" />
<line x1="414.60" y1="214.70" x2="416.40" y2="214.70" stroke="#231f20" stroke-width="0.7" />
<rect x="419.60" y="254.70" width="2.80" height="17.60" fill="#c9c9cc" />
<line x1="421.00" y1="254.70" x2="421.00" y2="251.50" stroke="#231f20" stroke-width="0.7" />
<line x1="420.10" y1="251.50" x2="421.90" y2="251.50" stroke="#231f20" stroke-width="0.7" />
<line x1="435.50" y1="272.30" x2="435.50" y2="274.80" stroke="#231f20" stroke-width="1" />
<rect x="428.90" y="220.30" width="2.80" height="52.00" fill="#2b4a8b" />
<line x1="430.30" y1="220.30" x2="430.30" y2="203.50" stroke="#231f20" stroke-width="0.7" />
<line x1="429.40" y1="203.50" x2="431.20" y2="203.50" stroke="#231f20" stroke-width="0.7" />
<rect x="434.40" y="223.50" width="2.80" height="48.80" fill="#4b5169" />
<line x1="435.80" y1="223.50" x2="435.80" y2="219.90" stroke="#231f20" stroke-width="0.7" />
<line x1="434.90" y1="219.90" x2="436.70" y2="219.90" stroke="#231f20" stroke-width="0.7" />
<rect x="439.90" y="250.30" width="2.80" height="22.00" fill="#c9c9cc" />
<line x1="441.30" y1="250.30" x2="441.30" y2="244.30" stroke="#231f20" stroke-width="0.7" />
<line x1="440.40" y1="244.30" x2="442.20" y2="244.30" stroke="#231f20" stroke-width="0.7" />
<line x1="455.50" y1="272.30" x2="455.50" y2="274.80" stroke="#231f20" stroke-width="1" />
<rect x="449.00" y="226.70" width="2.80" height="45.60" fill="#2b4a8b" />
<line x1="450.40" y1="226.70" x2="450.40" y2="213.50" stroke="#231f20" stroke-width="0.7" />
<line x1="449.50" y1="213.50" x2="451.30" y2="213.50" stroke="#231f20" stroke-width="0.7" />
<rect x="454.50" y="233.50" width="2.80" height="38.80" fill="#4b5169" />
<line x1="455.90" y1="233.50" x2="455.90" y2="229.10" stroke="#231f20" stroke-width="0.7" />
<line x1="455.00" y1="229.10" x2="456.80" y2="229.10" stroke="#231f20" stroke-width="0.7" />
<rect x="460.00" y="261.10" width="2.80" height="11.20" fill="#c9c9cc" />
<line x1="461.40" y1="261.10" x2="461.40" y2="258.70" stroke="#231f20" stroke-width="0.7" />
<line x1="460.50" y1="258.70" x2="462.30" y2="258.70" stroke="#231f20" stroke-width="0.7" />
<line x1="405.50" y1="192.00" x2="405.50" y2="272.00" stroke="#231f20" stroke-width="0.8" stroke-dasharray="2,1.6"/>
<rect x="470.00" y="191.30" width="11.20" height="5.80" fill="#2b4a8b" />
<text x="0" y="0" font-size="8.3" text-anchor="start" fill="#231f20" transform="translate(483.80 196.90) scale(0.9 1)" stroke="#231f20" stroke-width="0.08" >697</text>
<rect x="470.00" y="202.80" width="11.20" height="5.80" fill="#4b5169" />
<text x="0" y="0" font-size="8.3" text-anchor="start" fill="#231f20" transform="translate(483.80 208.40) scale(0.9 1)" stroke="#231f20" stroke-width="0.08" >BV173</text>
<rect x="470.00" y="214.30" width="11.20" height="5.80" fill="#c9c9cc" />
<text x="0" y="0" font-size="8.3" text-anchor="start" fill="#231f20" transform="translate(483.80 219.90) scale(0.9 1)" stroke="#231f20" stroke-width="0.08" >L707</text>
<text transform="translate(359.40 231.70) rotate(-90) scale(0.8741 1)" x="0" y="0" font-size="9.0" text-anchor="middle" fill="#231f20"><tspan>γH2AX</tspan><tspan dy="-2.70" font-size="7.20">+</tspan><tspan dy="2.70"> cells (%)</tspan></text>
<text x="455.80" y="228.97" font-size="8.6" text-anchor="middle" fill="#231f20" stroke="#231f20" stroke-width="0.2" >*</text>
<text x="398.20" y="282.60" font-size="8.3" text-anchor="end" fill="#231f20" transform="rotate(-45 398.20 282.60)" stroke="#231f20" stroke-width="0.18" >untreated</text>
<text x="418.70" y="282.60" font-size="8.3" text-anchor="end" fill="#231f20" transform="rotate(-45 418.70 282.60)" stroke="#231f20" stroke-width="0.18" >0</text>
<text x="439.00" y="282.60" font-size="8.3" text-anchor="end" fill="#231f20" transform="rotate(-45 439.00 282.60)" stroke="#231f20" stroke-width="0.18" >VEN</text>
<text x="459.10" y="282.60" font-size="8.3" text-anchor="end" fill="#231f20" transform="rotate(-45 459.10 282.60)" stroke="#231f20" stroke-width="0.18" >DEX</text>
<line x1="404.30" y1="299.50" x2="466.30" y2="299.50" stroke="#231f20" stroke-width="0.95" />
<line x1="404.50" y1="295.30" x2="404.50" y2="299.90" stroke="#231f20" stroke-width="0.95" />
<line x1="465.50" y1="295.30" x2="465.50" y2="299.90" stroke="#231f20" stroke-width="0.95" />
<text x="435.50" y="310.00" font-size="8.2" text-anchor="middle" fill="#231f20" stroke="#231f20" stroke-width="0.1" >6h INO</text>
<defs>
<filter id="bl1" x="-50%" y="-100%" width="200%" height="300%"><feGaussianBlur stdDeviation="1.1 0.8"/></filter>
<filter id="bl2" x="-50%" y="-100%" width="200%" height="300%"><feGaussianBlur stdDeviation="1.3 0.9"/></filter>
<clipPath id="cpG"><rect x="0" y="0" width="520" height="641"/></clipPath>
</defs>
<text x="6.20" y="337.80" font-size="14" text-anchor="start" fill="#000" stroke="#000" stroke-width="0.45" font-weight="bold" >G</text>
<text x="0" y="0" font-size="9.0" text-anchor="middle" fill="#231f20" transform="translate(65.80 348.20) scale(0.9 1)" stroke="#231f20" stroke-width="0.1" >697</text>
<line x1="52.00" y1="353.50" x2="80.80" y2="353.50" stroke="#231f20" stroke-width="1.0" />
<text x="0" y="0" font-size="9.0" text-anchor="middle" fill="#231f20" transform="translate(107.40 348.20) scale(0.9 1)" stroke="#231f20" stroke-width="0.1" >BV173</text>
<line x1="93.00" y1="353.50" x2="121.70" y2="353.50" stroke="#231f20" stroke-width="1.0" />
<text x="0" y="0" font-size="9.0" text-anchor="middle" fill="#231f20" transform="translate(152.00 348.20) scale(0.9 1)" stroke="#231f20" stroke-width="0.1" >L707</text>
<line x1="137.30" y1="353.50" x2="166.20" y2="353.50" stroke="#231f20" stroke-width="1.0" />
<text x="0" y="0" font-size="9.0" text-anchor="end" fill="#231f20" transform="translate(46.30 363.60) scale(0.9 1)" stroke="#231f20" stroke-width="0.1" >INO</text>
<text x="0" y="0" font-size="8.2" text-anchor="middle" fill="#231f20" transform="translate(57.80 363.00) scale(0.9 1)" stroke="#231f20" stroke-width="0.1" >-</text>
<text x="0" y="0" font-size="8.2" text-anchor="middle" fill="#231f20" transform="translate(74.20 363.40) scale(0.9 1)" stroke="#231f20" stroke-width="0.1" >+</text>
<text x="0" y="0" font-size="8.2" text-anchor="middle" fill="#231f20" transform="translate(98.00 363.00) scale(0.9 1)" stroke="#231f20" stroke-width="0.1" >-</text>
<text x="0" y="0" font-size="8.2" text-anchor="middle" fill="#231f20" transform="translate(116.20 363.40) scale(0.9 1)" stroke="#231f20" stroke-width="0.1" >+</text>
<text x="0" y="0" font-size="8.2" text-anchor="middle" fill="#231f20" transform="translate(140.40 363.00) scale(0.9 1)" stroke="#231f20" stroke-width="0.1" >-</text>
<text x="0" y="0" font-size="8.2" text-anchor="middle" fill="#231f20" transform="translate(158.20 363.40) scale(0.9 1)" stroke="#231f20" stroke-width="0.1" >+</text>
<svg x="50.0" y="368.3" width="35.8" height="20.0" viewBox="50.0 368.3 35.8 20.0" overflow="hidden">
<rect x="50.00" y="368.30" width="35.80" height="20.00" fill="#d5d5d5" />
<rect x="51.30" y="375.20" width="13.00" height="2.60" rx="1.30" fill="#8a8a8a" opacity="0.9" filter="url(#bl1)"/>
<rect x="67.20" y="374.70" width="14.00" height="3.00" rx="1.50" fill="#666" opacity="0.95" filter="url(#bl1)"/>
</svg>
<rect x="50.60" y="368.90" width="34.60" height="18.80" fill="none" stroke="#1e1e1e" stroke-width="1.2"/>
<svg x="87.7" y="368.3" width="39.8" height="20.0" viewBox="87.7 368.3 39.8 20.0" overflow="hidden">
<rect x="87.70" y="368.30" width="39.80" height="20.00" fill="#b8b8b8" />
<rect x="92.00" y="377.30" width="12.00" height="2.40" rx="1.20" fill="#8f8f8f" opacity="0.6" filter="url(#bl1)"/>
<rect x="108.70" y="376.40" width="15.00" height="4.00" rx="2.00" fill="#181818" opacity="1" filter="url(#bl1)"/>
</svg>
<rect x="88.30" y="368.90" width="38.60" height="18.80" fill="none" stroke="#1e1e1e" stroke-width="1.2"/>
<svg x="129.4" y="368.3" width="43.29999999999998" height="20.0" viewBox="129.4 368.3 43.29999999999998 20.0" overflow="hidden">
<rect x="129.40" y="368.30" width="43.30" height="20.00" fill="#efefef" />
<rect x="133.90" y="375.30" width="13.00" height="2.40" rx="1.20" fill="#9a9a9a" opacity="0.7" filter="url(#bl1)"/>
<rect x="133.90" y="380.10" width="13.00" height="1.80" rx="0.90" fill="#bbb" opacity="0.6" filter="url(#bl1)"/>
<rect x="150.70" y="374.90" width="15.00" height="3.40" rx="1.70" fill="#1c1c1c" opacity="1" filter="url(#bl1)"/>
<rect x="151.20" y="380.10" width="14.00" height="1.80" rx="0.90" fill="#aaa" opacity="0.6" filter="url(#bl1)"/>
</svg>
<rect x="130.00" y="368.90" width="42.10" height="18.80" fill="none" stroke="#1e1e1e" stroke-width="1.2"/>
<svg x="50.0" y="401.2" width="35.8" height="19.400000000000034" viewBox="50.0 401.2 35.8 19.400000000000034" overflow="hidden">
<rect x="50.00" y="401.20" width="35.80" height="19.40" fill="#cacaca" />
<rect x="50.30" y="412.40" width="15.00" height="3.20" rx="1.60" fill="#3c3c3c" opacity="0.95" filter="url(#bl1)"/>
<rect x="65.95" y="410.20" width="16.50" height="4.80" rx="2.40" fill="#0c0c0c" opacity="1" filter="url(#bl1)"/>
</svg>
<rect x="50.60" y="401.80" width="34.60" height="18.20" fill="none" stroke="#1e1e1e" stroke-width="1.2"/>
<svg x="87.7" y="401.2" width="39.8" height="19.400000000000034" viewBox="87.7 401.2 39.8 19.400000000000034" overflow="hidden">
<rect x="87.70" y="401.20" width="39.80" height="19.40" fill="#e7e7e7" />
<rect x="90.25" y="409.80" width="15.50" height="3.00" rx="1.50" fill="#2a2a2a" opacity="1" filter="url(#bl1)"/>
<rect x="107.70" y="409.40" width="17.00" height="3.80" rx="1.90" fill="#0e0e0e" opacity="1" filter="url(#bl1)"/>
</svg>
<rect x="88.30" y="401.80" width="38.60" height="18.20" fill="none" stroke="#1e1e1e" stroke-width="1.2"/>
<svg x="129.4" y="401.2" width="43.29999999999998" height="19.400000000000034" viewBox="129.4 401.2 43.29999999999998 19.400000000000034" overflow="hidden">
<rect x="129.40" y="401.20" width="43.30" height="19.40" fill="#e8e8e8" />
<rect x="132.90" y="411.50" width="15.00" height="2.60" rx="1.30" fill="#555" opacity="0.95" filter="url(#bl1)"/>
<rect x="150.70" y="411.50" width="15.00" height="2.60" rx="1.30" fill="#555" opacity="0.95" filter="url(#bl1)"/>
</svg>
<rect x="130.00" y="401.80" width="42.10" height="18.20" fill="none" stroke="#1e1e1e" stroke-width="1.2"/>
<svg x="50.0" y="433.2" width="35.8" height="16.600000000000023" viewBox="50.0 433.2 35.8 16.600000000000023" overflow="hidden">
<rect x="50.00" y="433.20" width="35.80" height="16.60" fill="#c9c9c9" />
<rect x="51.30" y="442.40" width="13.00" height="2.20" rx="1.10" fill="#8a8a8a" opacity="0.8" filter="url(#bl1)"/>
<rect x="66.45" y="439.90" width="15.50" height="6.20" rx="3.00" fill="#0a0a0a" opacity="1" filter="url(#bl1)"/>
</svg>
<rect x="50.60" y="433.80" width="34.60" height="15.40" fill="none" stroke="#1e1e1e" stroke-width="1.2"/>
<svg x="87.7" y="433.2" width="39.8" height="16.600000000000023" viewBox="87.7 433.2 39.8 16.600000000000023" overflow="hidden">
<rect x="87.70" y="433.20" width="39.80" height="16.60" fill="#dedede" />
<rect x="91.00" y="442.90" width="14.00" height="2.20" rx="1.10" fill="#777" opacity="0.8" filter="url(#bl1)"/>
<rect x="108.20" y="441.30" width="16.00" height="5.00" rx="2.50" fill="#121212" opacity="1" filter="url(#bl1)"/>
</svg>
<rect x="88.30" y="433.80" width="38.60" height="15.40" fill="none" stroke="#1e1e1e" stroke-width="1.2"/>
<svg x="129.4" y="433.2" width="43.29999999999998" height="16.600000000000023" viewBox="129.4 433.2 43.29999999999998 16.600000000000023" overflow="hidden">
<rect x="129.40" y="433.20" width="43.30" height="16.60" fill="#cbcbcb" />
<rect x="152.20" y="442.30" width="12.00" height="1.80" rx="0.90" fill="#9a9a9a" opacity="0.8" filter="url(#bl1)"/>
</svg>
<rect x="130.00" y="433.80" width="42.10" height="15.40" fill="none" stroke="#1e1e1e" stroke-width="1.2"/>
<svg x="50.0" y="460.2" width="35.8" height="17.80000000000001" viewBox="50.0 460.2 35.8 17.80000000000001" overflow="hidden">
<rect x="50.00" y="460.20" width="35.80" height="17.80" fill="#dfdfdf" />
<rect x="50.80" y="466.00" width="14.00" height="3.20" rx="1.60" fill="#333" opacity="1" filter="url(#bl1)"/>
<rect x="67.20" y="466.00" width="14.00" height="3.20" rx="1.60" fill="#333" opacity="1" filter="url(#bl1)"/>
</svg>
<rect x="50.60" y="460.80" width="34.60" height="16.60" fill="none" stroke="#1e1e1e" stroke-width="1.2"/>
<svg x="87.7" y="460.2" width="39.8" height="17.80000000000001" viewBox="87.7 460.2 39.8 17.80000000000001" overflow="hidden">
<rect x="87.70" y="460.20" width="39.80" height="17.80" fill="#dfdfdf" />
<rect x="91.00" y="465.50" width="14.00" height="2.60" rx="1.30" fill="#444" opacity="1" filter="url(#bl1)"/>
<rect x="109.20" y="467.10" width="14.00" height="2.60" rx="1.30" fill="#444" opacity="1" filter="url(#bl1)"/>
</svg>
<rect x="88.30" y="460.80" width="38.60" height="16.60" fill="none" stroke="#1e1e1e" stroke-width="1.2"/>
<svg x="129.4" y="460.2" width="43.29999999999998" height="17.80000000000001" viewBox="129.4 460.2 43.29999999999998 17.80000000000001" overflow="hidden">
<rect x="129.40" y="460.20" width="43.30" height="17.80" fill="#dfdfdf" />
<rect x="133.40" y="466.70" width="14.00" height="2.60" rx="1.30" fill="#585858" opacity="1" filter="url(#bl1)"/>
<rect x="151.20" y="466.70" width="14.00" height="2.60" rx="1.30" fill="#585858" opacity="1" filter="url(#bl1)"/>
</svg>
<rect x="130.00" y="460.80" width="42.10" height="16.60" fill="none" stroke="#1e1e1e" stroke-width="1.2"/>
<text x="0" y="0" font-size="9.0" text-anchor="end" fill="#231f20" transform="translate(46.30 384.20) scale(0.9 1)" stroke="#231f20" stroke-width="0.1" >p53</text>
<text x="0" y="0" font-size="9.0" text-anchor="end" fill="#231f20" transform="translate(46.30 414.90) scale(0.9 1)" stroke="#231f20" stroke-width="0.1" >BAX</text>
<text x="0" y="0" font-size="9.0" text-anchor="end" fill="#231f20" transform="translate(46.30 446.20) scale(0.9 1)" stroke="#231f20" stroke-width="0.1" >PUMA</text>
<text x="0" y="0" font-size="9.0" text-anchor="end" fill="#231f20" transform="translate(46.30 471.80) scale(0.9 1)" stroke="#231f20" stroke-width="0.1" >GAPDH</text>
<text x="0" y="0" font-size="8.9" text-anchor="middle" fill="#231f20" transform="translate(57.80 397.80) scale(0.9 1)" stroke="#231f20" stroke-width="0.1" >1</text>
<text x="0" y="0" font-size="8.9" text-anchor="middle" fill="#231f20" transform="translate(74.70 397.80) scale(0.9 1)" stroke="#231f20" stroke-width="0.1" >1.9</text>
<text x="0" y="0" font-size="8.9" text-anchor="middle" fill="#231f20" transform="translate(98.00 397.80) scale(0.9 1)" stroke="#231f20" stroke-width="0.1" >1</text>
<text x="0" y="0" font-size="8.9" text-anchor="middle" fill="#231f20" transform="translate(116.70 397.80) scale(0.9 1)" stroke="#231f20" stroke-width="0.1" >8.2</text>
<text x="0" y="0" font-size="8.9" text-anchor="middle" fill="#231f20" transform="translate(140.40 397.80) scale(0.9 1)" stroke="#231f20" stroke-width="0.1" >1</text>
<text x="0" y="0" font-size="8.9" text-anchor="middle" fill="#231f20" transform="translate(158.70 397.80) scale(0.9 1)" stroke="#231f20" stroke-width="0.1" >7.5</text>
<text x="0" y="0" font-size="8.9" text-anchor="middle" fill="#231f20" transform="translate(57.80 430.00) scale(0.9 1)" stroke="#231f20" stroke-width="0.1" >1</text>
<text x="0" y="0" font-size="8.9" text-anchor="middle" fill="#231f20" transform="translate(74.70 430.00) scale(0.9 1)" stroke="#231f20" stroke-width="0.1" >1.7</text>
<text x="0" y="0" font-size="8.9" text-anchor="middle" fill="#231f20" transform="translate(98.00 430.00) scale(0.9 1)" stroke="#231f20" stroke-width="0.1" >1</text>
<text x="0" y="0" font-size="8.9" text-anchor="middle" fill="#231f20" transform="translate(116.70 430.00) scale(0.9 1)" stroke="#231f20" stroke-width="0.1" >1.2</text>
<text x="0" y="0" font-size="8.9" text-anchor="middle" fill="#231f20" transform="translate(140.40 430.00) scale(0.9 1)" stroke="#231f20" stroke-width="0.1" >1</text>
<text x="0" y="0" font-size="8.9" text-anchor="middle" fill="#231f20" transform="translate(158.70 430.00) scale(0.9 1)" stroke="#231f20" stroke-width="0.1" >1.6</text>
<text x="0" y="0" font-size="8.9" text-anchor="middle" fill="#231f20" transform="translate(57.80 457.60) scale(0.9 1)" stroke="#231f20" stroke-width="0.1" >1</text>
<text x="0" y="0" font-size="8.9" text-anchor="middle" fill="#231f20" transform="translate(74.70 457.60) scale(0.9 1)" stroke="#231f20" stroke-width="0.1" >4.5</text>
<text x="0" y="0" font-size="8.9" text-anchor="middle" fill="#231f20" transform="translate(98.00 457.60) scale(0.9 1)" stroke="#231f20" stroke-width="0.1" >1</text>
<text x="0" y="0" font-size="8.9" text-anchor="middle" fill="#231f20" transform="translate(116.70 457.60) scale(0.9 1)" stroke="#231f20" stroke-width="0.1" >2.4</text>
<text x="0" y="0" font-size="8.9" text-anchor="middle" fill="#231f20" transform="translate(140.40 457.60) scale(0.9 1)" stroke="#231f20" stroke-width="0.1" >1</text>
<text x="0" y="0" font-size="8.9" text-anchor="middle" fill="#231f20" transform="translate(158.70 457.60) scale(0.9 1)" stroke="#231f20" stroke-width="0.1" >100</text>
<text x="187.80" y="338.00" font-size="14" text-anchor="start" fill="#000" stroke="#000" stroke-width="0.45" font-weight="bold" >H</text>
<text x="365.20" y="354.80" font-size="10.3" text-anchor="middle" fill="#231f20" stroke="#231f20" stroke-width="0.1" textLength="55.5" lengthAdjust="spacingAndGlyphs" >Single agent</text>
<line x1="223.00" y1="360.50" x2="508.00" y2="360.50" stroke="#231f20" stroke-width="0.9" />
<text x="216.80" y="372.40" font-size="8.6" text-anchor="end" fill="#231f20" stroke="#231f20" stroke-width="0.05" >036</text>
<text x="216.80" y="379.27" font-size="8.6" text-anchor="end" fill="#231f20" stroke="#231f20" stroke-width="0.05" >L20</text>
<text x="216.80" y="386.14" font-size="8.6" text-anchor="end" fill="#231f20" stroke="#231f20" stroke-width="0.05" >L05</text>
<text x="216.80" y="393.01" font-size="8.6" text-anchor="end" fill="#231f20" stroke="#231f20" stroke-width="0.05" >037</text>
<text x="216.80" y="399.88" font-size="8.6" text-anchor="end" fill="#231f20" stroke="#231f20" stroke-width="0.05" >029</text>
<text x="216.80" y="406.75" font-size="8.6" text-anchor="end" fill="#231f20" stroke="#231f20" stroke-width="0.05" >021</text>
<text x="216.80" y="413.62" font-size="8.6" text-anchor="end" fill="#231f20" stroke="#231f20" stroke-width="0.05" >020</text>
<text x="216.80" y="420.49" font-size="8.6" text-anchor="end" fill="#231f20" stroke="#231f20" stroke-width="0.05" >019</text>
<text x="216.80" y="427.36" font-size="8.6" text-anchor="end" fill="#231f20" stroke="#231f20" stroke-width="0.05" >L707</text>
<text x="216.80" y="434.23" font-size="8.6" text-anchor="end" fill="#231f20" stroke="#231f20" stroke-width="0.05" >P021</text>
<text x="216.80" y="441.10" font-size="8.6" text-anchor="end" fill="#231f20" stroke="#231f20" stroke-width="0.05" >P020</text>
<line x1="222.50" y1="363.50" x2="222.50" y2="443.00" stroke="#231f20" stroke-width="1.1" />
<line x1="222.30" y1="442.50" x2="304.50" y2="442.50" stroke="#231f20" stroke-width="1.1" />
<line x1="220.30" y1="369.50" x2="222.80" y2="369.50" stroke="#231f20" stroke-width="0.9" />
<rect x="223.40" y="367.40" width="66.40" height="4.00" fill="#d4867b" />
<line x1="220.30" y1="376.50" x2="222.80" y2="376.50" stroke="#231f20" stroke-width="0.9" />
<rect x="223.40" y="374.27" width="59.20" height="4.00" fill="#5da8e3" />
<line x1="220.30" y1="383.50" x2="222.80" y2="383.50" stroke="#231f20" stroke-width="0.9" />
<rect x="223.40" y="381.14" width="0.48" height="4.00" fill="#6ab04e" />
<line x1="220.30" y1="390.50" x2="222.80" y2="390.50" stroke="#231f20" stroke-width="0.9" />
<rect x="223.40" y="388.01" width="29.44" height="4.00" fill="#e08d1c" />
<line x1="220.30" y1="396.50" x2="222.80" y2="396.50" stroke="#231f20" stroke-width="0.9" />
<rect x="223.40" y="394.88" width="67.20" height="4.00" fill="#f0c37f" />
<line x1="220.30" y1="403.50" x2="222.80" y2="403.50" stroke="#231f20" stroke-width="0.9" />
<rect x="223.40" y="401.75" width="21.12" height="4.00" fill="#d2137c" />
<line x1="220.30" y1="410.50" x2="222.80" y2="410.50" stroke="#231f20" stroke-width="0.9" />
<rect x="223.40" y="408.62" width="1.60" height="4.00" fill="#a5122e" />
<line x1="220.30" y1="417.50" x2="222.80" y2="417.50" stroke="#231f20" stroke-width="0.9" />
<rect x="223.40" y="415.49" width="79.36" height="4.00" fill="#2f6a4d" />
<line x1="220.30" y1="424.50" x2="222.80" y2="424.50" stroke="#231f20" stroke-width="0.9" />
<rect x="223.40" y="422.36" width="66.40" height="4.00" fill="#c8c8c8" />
<line x1="220.30" y1="431.50" x2="222.80" y2="431.50" stroke="#231f20" stroke-width="0.9" />
<rect x="223.40" y="429.23" width="0.32" height="4.00" fill="#4a5069" />
<line x1="220.30" y1="438.50" x2="222.80" y2="438.50" stroke="#231f20" stroke-width="0.9" />
<rect x="223.40" y="436.10" width="4.00" height="4.00" fill="#2a4a8c" />
<line x1="222.50" y1="442.60" x2="222.50" y2="445.20" stroke="#231f20" stroke-width="0.9" />
<text x="222.80" y="456.90" font-size="8.9" text-anchor="middle" fill="#231f20" stroke="#231f20" stroke-width="0.05" >0</text>
<line x1="238.50" y1="442.60" x2="238.50" y2="445.20" stroke="#231f20" stroke-width="0.9" />
<text x="238.80" y="456.90" font-size="8.9" text-anchor="middle" fill="#231f20" stroke="#231f20" stroke-width="0.05" >1</text>
<line x1="254.50" y1="442.60" x2="254.50" y2="445.20" stroke="#231f20" stroke-width="0.9" />
<text x="254.80" y="456.90" font-size="8.9" text-anchor="middle" fill="#231f20" stroke="#231f20" stroke-width="0.05" >2</text>
<line x1="270.50" y1="442.60" x2="270.50" y2="445.20" stroke="#231f20" stroke-width="0.9" />
<text x="270.80" y="456.90" font-size="8.9" text-anchor="middle" fill="#231f20" stroke="#231f20" stroke-width="0.05" >3</text>
<line x1="286.50" y1="442.60" x2="286.50" y2="445.20" stroke="#231f20" stroke-width="0.9" />
<text x="286.80" y="456.90" font-size="8.9" text-anchor="middle" fill="#231f20" stroke="#231f20" stroke-width="0.05" >4</text>
<line x1="302.50" y1="442.60" x2="302.50" y2="445.20" stroke="#231f20" stroke-width="0.9" />
<text x="302.80" y="456.90" font-size="8.9" text-anchor="middle" fill="#231f20" stroke="#231f20" stroke-width="0.05" >≥5</text>
<text x="264.00" y="469.60" font-size="9.6" text-anchor="middle" fill="#231f20" stroke="#231f20" stroke-width="0.05" textLength="51" lengthAdjust="spacingAndGlyphs" >IC50 INO (nM)</text>
<line x1="322.50" y1="363.50" x2="322.50" y2="443.00" stroke="#231f20" stroke-width="1.1" />
<line x1="322.10" y1="442.50" x2="404.50" y2="442.50" stroke="#231f20" stroke-width="1.1" />
<line x1="320.10" y1="369.50" x2="322.60" y2="369.50" stroke="#231f20" stroke-width="0.9" />
<rect x="323.20" y="367.40" width="66.53" height="4.00" fill="#d4867b" />
<line x1="320.10" y1="376.50" x2="322.60" y2="376.50" stroke="#231f20" stroke-width="0.9" />
<rect x="323.20" y="374.27" width="30.89" height="4.00" fill="#5da8e3" />
<line x1="320.10" y1="383.50" x2="322.60" y2="383.50" stroke="#231f20" stroke-width="0.9" />
<rect x="323.20" y="381.14" width="10.30" height="4.00" fill="#6ab04e" />
<line x1="320.10" y1="390.50" x2="322.60" y2="390.50" stroke="#231f20" stroke-width="0.9" />
<rect x="323.20" y="388.01" width="79.20" height="4.00" fill="#e08d1c" />
<line x1="320.10" y1="396.50" x2="322.60" y2="396.50" stroke="#231f20" stroke-width="0.9" />
<rect x="323.20" y="394.88" width="17.42" height="4.00" fill="#f0c37f" />
<line x1="320.10" y1="403.50" x2="322.60" y2="403.50" stroke="#231f20" stroke-width="0.9" />
<rect x="323.20" y="401.75" width="79.20" height="4.00" fill="#d2137c" />
<line x1="320.10" y1="410.50" x2="322.60" y2="410.50" stroke="#231f20" stroke-width="0.9" />
<rect x="323.20" y="408.62" width="10.30" height="4.00" fill="#a5122e" />
<line x1="320.10" y1="417.50" x2="322.60" y2="417.50" stroke="#231f20" stroke-width="0.9" />
<rect x="323.20" y="415.49" width="79.20" height="4.00" fill="#2f6a4d" />
<line x1="320.10" y1="424.50" x2="322.60" y2="424.50" stroke="#231f20" stroke-width="0.9" />
<rect x="323.20" y="422.36" width="52.27" height="4.00" fill="#c8c8c8" />
<line x1="320.10" y1="431.50" x2="322.60" y2="431.50" stroke="#231f20" stroke-width="0.9" />
<rect x="323.20" y="429.23" width="79.20" height="4.00" fill="#4a5069" />
<line x1="320.10" y1="438.50" x2="322.60" y2="438.50" stroke="#231f20" stroke-width="0.9" />
<rect x="323.20" y="436.10" width="8.71" height="4.00" fill="#2a4a8c" />
<line x1="322.50" y1="442.60" x2="322.50" y2="445.20" stroke="#231f20" stroke-width="0.9" />
<text x="322.60" y="456.90" font-size="8.9" text-anchor="middle" fill="#231f20" stroke="#231f20" stroke-width="0.05" >0.0</text>
<line x1="362.50" y1="442.60" x2="362.50" y2="445.20" stroke="#231f20" stroke-width="0.9" />
<text x="362.20" y="456.90" font-size="8.9" text-anchor="middle" fill="#231f20" stroke="#231f20" stroke-width="0.05" >0.5</text>
<line x1="401.50" y1="442.60" x2="401.50" y2="445.20" stroke="#231f20" stroke-width="0.9" />
<text x="401.80" y="456.90" font-size="8.9" text-anchor="middle" fill="#231f20" stroke="#231f20" stroke-width="0.05" >≥1.0</text>
<text x="363.50" y="469.60" font-size="9.6" text-anchor="middle" fill="#231f20" stroke="#231f20" stroke-width="0.05" textLength="51" lengthAdjust="spacingAndGlyphs" >IC50 VEN (µM)</text>
<line x1="425.50" y1="363.50" x2="425.50" y2="443.00" stroke="#231f20" stroke-width="1.1" />
<line x1="424.90" y1="442.50" x2="507.30" y2="442.50" stroke="#231f20" stroke-width="1.1" />
<line x1="422.90" y1="369.50" x2="425.40" y2="369.50" stroke="#231f20" stroke-width="0.9" />
<rect x="426.00" y="367.40" width="12.24" height="4.00" fill="#d4867b" />
<line x1="422.90" y1="376.50" x2="425.40" y2="376.50" stroke="#231f20" stroke-width="0.9" />
<rect x="426.00" y="374.27" width="79.00" height="4.00" fill="#5da8e3" />
<line x1="422.90" y1="383.50" x2="425.40" y2="383.50" stroke="#231f20" stroke-width="0.9" />
<rect x="426.00" y="381.14" width="79.00" height="4.00" fill="#6ab04e" />
<line x1="422.90" y1="390.50" x2="425.40" y2="390.50" stroke="#231f20" stroke-width="0.9" />
<rect x="426.00" y="388.01" width="79.00" height="4.00" fill="#e08d1c" />
<line x1="422.90" y1="396.50" x2="425.40" y2="396.50" stroke="#231f20" stroke-width="0.9" />
<rect x="426.00" y="394.88" width="79.00" height="4.00" fill="#f0c37f" />
<line x1="422.90" y1="403.50" x2="425.40" y2="403.50" stroke="#231f20" stroke-width="0.9" />
<rect x="426.00" y="401.75" width="79.00" height="4.00" fill="#d2137c" />
<line x1="422.90" y1="410.50" x2="425.40" y2="410.50" stroke="#231f20" stroke-width="0.9" />
<rect x="426.00" y="408.62" width="54.51" height="4.00" fill="#a5122e" />
<line x1="422.90" y1="417.50" x2="425.40" y2="417.50" stroke="#231f20" stroke-width="0.9" />
<rect x="426.00" y="415.49" width="79.00" height="4.00" fill="#2f6a4d" />
<line x1="422.90" y1="424.50" x2="425.40" y2="424.50" stroke="#231f20" stroke-width="0.9" />
<rect x="426.00" y="422.36" width="36.34" height="4.00" fill="#c8c8c8" />
<line x1="422.90" y1="431.50" x2="425.40" y2="431.50" stroke="#231f20" stroke-width="0.9" />
<rect x="426.00" y="429.23" width="79.00" height="4.00" fill="#4a5069" />
<line x1="422.90" y1="438.50" x2="425.40" y2="438.50" stroke="#231f20" stroke-width="0.9" />
<rect x="426.00" y="436.10" width="45.03" height="4.00" fill="#2a4a8c" />
<line x1="425.50" y1="442.60" x2="425.50" y2="445.20" stroke="#231f20" stroke-width="0.9" />
<text x="425.40" y="456.90" font-size="8.9" text-anchor="middle" fill="#231f20" stroke="#231f20" stroke-width="0.05" >0.0</text>
<line x1="464.50" y1="442.60" x2="464.50" y2="445.20" stroke="#231f20" stroke-width="0.9" />
<text x="464.90" y="456.90" font-size="8.9" text-anchor="middle" fill="#231f20" stroke="#231f20" stroke-width="0.05" >0.5</text>
<line x1="504.50" y1="442.60" x2="504.50" y2="445.20" stroke="#231f20" stroke-width="0.9" />
<text x="504.40" y="456.90" font-size="8.9" text-anchor="middle" fill="#231f20" stroke="#231f20" stroke-width="0.05" >≥1.0</text>
<text x="466.00" y="469.60" font-size="9.6" text-anchor="middle" fill="#231f20" stroke="#231f20" stroke-width="0.05" textLength="51" lengthAdjust="spacingAndGlyphs" >IC50 DEX (µM)</text>
<text x="7.00" y="504.40" font-size="14" text-anchor="start" fill="#000" stroke="#000" stroke-width="0.45" font-weight="bold" >I</text>
<rect x="42.80" y="524.60" width="119.80" height="12.60" fill="#c9d0df" />
<rect x="42.80" y="537.20" width="119.80" height="66.80" fill="#e8c0c8" />
<defs><clipPath id="cpI"><rect x="38.8" y="523.0" width="127.8" height="83.39999999999998"/></clipPath></defs>
<g clip-path="url(#cpI)">
<path d="M42.80,557.91 L54.78,578.62 L66.76,588.64 L78.74,595.32 L90.72,598.66 L102.70,600.66 L114.68,602.33 L126.66,603.00 L138.64,603.47 L150.62,603.73 L162.60,603.87" fill="none" stroke="#27342c" stroke-width="0.9" stroke-linejoin="round"/>
<circle cx="42.80" cy="557.91" r="0.90" fill="#27342c"/>
<circle cx="54.78" cy="578.62" r="0.90" fill="#27342c"/>
<circle cx="66.76" cy="588.64" r="0.90" fill="#27342c"/>
<circle cx="78.74" cy="595.32" r="0.90" fill="#27342c"/>
<circle cx="90.72" cy="598.66" r="0.90" fill="#27342c"/>
<circle cx="102.70" cy="600.66" r="0.90" fill="#27342c"/>
<circle cx="114.68" cy="602.33" r="0.90" fill="#27342c"/>
<circle cx="126.66" cy="603.00" r="0.90" fill="#27342c"/>
<circle cx="138.64" cy="603.47" r="0.90" fill="#27342c"/>
<circle cx="150.62" cy="603.73" r="0.90" fill="#27342c"/>
<circle cx="162.60" cy="603.87" r="0.90" fill="#27342c"/>
<path d="M42.80,517.16 L54.78,524.51 L66.76,529.85 L78.74,541.88 L90.72,550.56 L102.70,558.24 L114.68,563.92 L126.66,569.93 L138.64,575.94 L150.62,580.29 L162.60,583.96" fill="none" stroke="#8e8592" stroke-width="0.6" stroke-linejoin="round"/>
<circle cx="54.78" cy="524.51" r="0.70" fill="#8e8592"/>
<circle cx="66.76" cy="529.85" r="0.70" fill="#8e8592"/>
<circle cx="78.74" cy="541.88" r="0.70" fill="#8e8592"/>
<circle cx="90.72" cy="550.56" r="0.70" fill="#8e8592"/>
<circle cx="102.70" cy="558.24" r="0.70" fill="#8e8592"/>
<circle cx="114.68" cy="563.92" r="0.70" fill="#8e8592"/>
<circle cx="126.66" cy="569.93" r="0.70" fill="#8e8592"/>
<circle cx="138.64" cy="575.94" r="0.70" fill="#8e8592"/>
<circle cx="150.62" cy="580.29" r="0.70" fill="#8e8592"/>
<circle cx="162.60" cy="583.96" r="0.70" fill="#8e8592"/>
<path d="M42.80,544.88 L54.78,551.23 L66.76,556.57 L78.74,561.25 L90.72,564.59 L102.70,566.93 L114.68,569.26 L126.66,570.20 L138.64,569.93 L150.62,567.93 L162.60,563.25" fill="none" stroke="#84a23e" stroke-width="0.9" stroke-linejoin="round"/>
<circle cx="42.80" cy="544.88" r="0.80" fill="#84a23e"/>
<circle cx="54.78" cy="551.23" r="0.80" fill="#84a23e"/>
<circle cx="66.76" cy="556.57" r="0.80" fill="#84a23e"/>
<circle cx="78.74" cy="561.25" r="0.80" fill="#84a23e"/>
<circle cx="90.72" cy="564.59" r="0.80" fill="#84a23e"/>
<circle cx="102.70" cy="566.93" r="0.80" fill="#84a23e"/>
<circle cx="114.68" cy="569.26" r="0.80" fill="#84a23e"/>
<circle cx="126.66" cy="570.20" r="0.80" fill="#84a23e"/>
<circle cx="138.64" cy="569.93" r="0.80" fill="#84a23e"/>
<circle cx="150.62" cy="567.93" r="0.80" fill="#84a23e"/>
<circle cx="162.60" cy="563.25" r="0.80" fill="#84a23e"/>
<path d="M42.80,584.96 L54.78,584.63 L66.76,583.29 L78.74,582.62 L90.72,580.95 L102.70,579.15 L114.68,576.08 L126.66,572.80 L138.64,568.40 L150.62,562.58 L162.60,554.70" fill="none" stroke="#4b3653" stroke-width="0.9" stroke-linejoin="round"/>
<path d="M42.80,583.27 L44.10,584.96 L42.80,586.65 L41.50,584.96 Z" fill="#4b3653"/>
<path d="M54.78,582.94 L56.08,584.63 L54.78,586.32 L53.48,584.63 Z" fill="#4b3653"/>
<path d="M66.76,581.60 L68.06,583.29 L66.76,584.98 L65.46,583.29 Z" fill="#4b3653"/>
<path d="M78.74,580.93 L80.04,582.62 L78.74,584.31 L77.44,582.62 Z" fill="#4b3653"/>
<path d="M90.72,579.26 L92.02,580.95 L90.72,582.64 L89.42,580.95 Z" fill="#4b3653"/>
<path d="M102.70,577.46 L104.00,579.15 L102.70,580.84 L101.40,579.15 Z" fill="#4b3653"/>
<path d="M114.68,574.39 L115.98,576.08 L114.68,577.77 L113.38,576.08 Z" fill="#4b3653"/>
<path d="M126.66,571.11 L127.96,572.80 L126.66,574.49 L125.36,572.80 Z" fill="#4b3653"/>
<path d="M138.64,566.71 L139.94,568.40 L138.64,570.09 L137.34,568.40 Z" fill="#4b3653"/>
<path d="M150.62,560.89 L151.92,562.58 L150.62,564.27 L149.32,562.58 Z" fill="#4b3653"/>
<path d="M162.60,553.01 L163.90,554.70 L162.60,556.39 L161.30,554.70 Z" fill="#4b3653"/>
<path d="M42.80,579.28 L54.78,583.29 L66.76,585.96 L78.74,587.63 L90.72,589.30 L102.70,590.64 L114.68,591.64 L126.66,592.11 L138.64,592.31 L150.62,591.98 L162.60,590.97" fill="none" stroke="#e0907f" stroke-width="0.9" stroke-linejoin="round"/>
<path d="M41.37,580.32 L44.23,580.32 L42.80,577.85 Z" fill="#e0907f"/>
<path d="M53.35,584.33 L56.21,584.33 L54.78,581.86 Z" fill="#e0907f"/>
<path d="M65.33,587.00 L68.19,587.00 L66.76,584.53 Z" fill="#e0907f"/>
<path d="M77.31,588.67 L80.17,588.67 L78.74,586.20 Z" fill="#e0907f"/>
<path d="M89.29,590.34 L92.15,590.34 L90.72,587.87 Z" fill="#e0907f"/>
<path d="M101.27,591.68 L104.13,591.68 L102.70,589.21 Z" fill="#e0907f"/>
<path d="M113.25,592.68 L116.11,592.68 L114.68,590.21 Z" fill="#e0907f"/>
<path d="M125.23,593.15 L128.09,593.15 L126.66,590.68 Z" fill="#e0907f"/>
<path d="M137.21,593.35 L140.07,593.35 L138.64,590.88 Z" fill="#e0907f"/>
<path d="M149.19,593.02 L152.05,593.02 L150.62,590.55 Z" fill="#e0907f"/>
<path d="M161.17,592.01 L164.03,592.01 L162.60,589.54 Z" fill="#e0907f"/>
<path d="M42.80,586.63 L54.78,587.63 L66.76,588.30 L78.74,588.97 L90.72,589.64 L102.70,590.31 L114.68,590.64 L126.66,590.77 L138.64,590.84 L150.62,590.77 L162.60,590.64" fill="none" stroke="#f2b877" stroke-width="0.9" stroke-linejoin="round"/>
<path d="M41.59,587.51 L44.01,587.51 L42.80,585.42 Z" fill="#f2b877"/>
<path d="M53.57,588.51 L55.99,588.51 L54.78,586.42 Z" fill="#f2b877"/>
<path d="M65.55,589.18 L67.97,589.18 L66.76,587.09 Z" fill="#f2b877"/>
<path d="M77.53,589.85 L79.95,589.85 L78.74,587.76 Z" fill="#f2b877"/>
<path d="M89.51,590.52 L91.93,590.52 L90.72,588.43 Z" fill="#f2b877"/>
<path d="M101.49,591.19 L103.91,591.19 L102.70,589.10 Z" fill="#f2b877"/>
<path d="M113.47,591.52 L115.89,591.52 L114.68,589.43 Z" fill="#f2b877"/>
<path d="M125.45,591.65 L127.87,591.65 L126.66,589.56 Z" fill="#f2b877"/>
<path d="M137.43,591.72 L139.85,591.72 L138.64,589.63 Z" fill="#f2b877"/>
<path d="M149.41,591.65 L151.83,591.65 L150.62,589.56 Z" fill="#f2b877"/>
<path d="M161.39,591.52 L163.81,591.52 L162.60,589.43 Z" fill="#f2b877"/>
<path d="M42.80,587.63 L54.78,588.90 L66.76,589.97 L78.74,590.31 L90.72,590.77 L102.70,591.31 L114.68,591.31 L126.66,590.31 L138.64,588.64 L150.62,586.63 L162.60,581.76" fill="none" stroke="#e2831c" stroke-width="0.9" stroke-linejoin="round"/>
<rect x="41.20" y="586.03" width="3.20" height="3.20" fill="#e2831c"/>
<rect x="53.18" y="587.30" width="3.20" height="3.20" fill="#e2831c"/>
<rect x="65.16" y="588.37" width="3.20" height="3.20" fill="#e2831c"/>
<rect x="77.14" y="588.71" width="3.20" height="3.20" fill="#e2831c"/>
<rect x="89.12" y="589.17" width="3.20" height="3.20" fill="#e2831c"/>
<rect x="101.10" y="589.71" width="3.20" height="3.20" fill="#e2831c"/>
<rect x="113.08" y="589.71" width="3.20" height="3.20" fill="#e2831c"/>
<rect x="125.06" y="588.71" width="3.20" height="3.20" fill="#e2831c"/>
<rect x="137.04" y="587.04" width="3.20" height="3.20" fill="#e2831c"/>
<rect x="149.02" y="585.03" width="3.20" height="3.20" fill="#e2831c"/>
<rect x="161.00" y="580.16" width="3.20" height="3.20" fill="#e2831c"/>
<path d="M42.80,596.32 L54.78,595.32 L66.76,594.65 L78.74,593.65 L90.72,592.64 L102.70,592.11 L114.68,591.78 L126.66,590.91 L138.64,589.30 L150.62,587.63 L162.60,586.63" fill="none" stroke="#d3187c" stroke-width="1.2" stroke-linejoin="round"/>
<circle cx="42.80" cy="596.32" r="1.00" fill="#d3187c"/>
<circle cx="54.78" cy="595.32" r="1.00" fill="#d3187c"/>
<circle cx="66.76" cy="594.65" r="1.00" fill="#d3187c"/>
<circle cx="78.74" cy="593.65" r="1.00" fill="#d3187c"/>
<circle cx="90.72" cy="592.64" r="1.00" fill="#d3187c"/>
<circle cx="102.70" cy="592.11" r="1.00" fill="#d3187c"/>
<circle cx="114.68" cy="591.78" r="1.00" fill="#d3187c"/>
<circle cx="126.66" cy="590.91" r="1.00" fill="#d3187c"/>
<circle cx="138.64" cy="589.30" r="1.00" fill="#d3187c"/>
<circle cx="150.62" cy="587.63" r="1.00" fill="#d3187c"/>
<circle cx="162.60" cy="586.63" r="1.00" fill="#d3187c"/>
<path d="M42.80,541.21 L54.78,573.61 L66.76,587.30 L78.74,592.91 L90.72,596.65 L102.70,598.32 L114.68,599.52 L126.66,599.32 L138.64,598.66 L150.62,597.99 L162.60,596.65" fill="none" stroke="#7a90d8" stroke-width="0.9" stroke-linejoin="round"/>
<circle cx="42.80" cy="541.21" r="1.60" fill="#7a90d8"/>
<circle cx="54.78" cy="573.61" r="1.60" fill="#7a90d8"/>
<circle cx="66.76" cy="587.30" r="1.60" fill="#7a90d8"/>
<circle cx="78.74" cy="592.91" r="1.60" fill="#7a90d8"/>
<circle cx="90.72" cy="596.65" r="1.60" fill="#7a90d8"/>
<circle cx="102.70" cy="598.32" r="1.60" fill="#7a90d8"/>
<circle cx="114.68" cy="599.52" r="1.60" fill="#7a90d8"/>
<circle cx="126.66" cy="599.32" r="1.60" fill="#7a90d8"/>
<circle cx="138.64" cy="598.66" r="1.60" fill="#7a90d8"/>
<circle cx="150.62" cy="597.99" r="1.60" fill="#7a90d8"/>
<circle cx="162.60" cy="596.65" r="1.60" fill="#7a90d8"/>
<path d="M42.80,524.60 L54.78,524.60 L66.76,524.60 L78.74,524.60 L90.72,524.60 L102.70,524.60 L114.68,524.60 L126.66,524.60 L138.64,524.60 L150.62,524.60 L162.60,524.60" fill="none" stroke="#a3122f" stroke-width="1.2" stroke-linejoin="round"/>
<circle cx="42.80" cy="524.60" r="1.30" fill="#a3122f"/>
<circle cx="54.78" cy="524.60" r="1.30" fill="#a3122f"/>
<circle cx="66.76" cy="524.60" r="1.30" fill="#a3122f"/>
<circle cx="78.74" cy="524.60" r="1.30" fill="#a3122f"/>
<circle cx="90.72" cy="524.60" r="1.30" fill="#a3122f"/>
<circle cx="102.70" cy="524.60" r="1.30" fill="#a3122f"/>
<circle cx="114.68" cy="524.60" r="1.30" fill="#a3122f"/>
<circle cx="126.66" cy="524.60" r="1.30" fill="#a3122f"/>
<circle cx="138.64" cy="524.60" r="1.30" fill="#a3122f"/>
<circle cx="150.62" cy="524.60" r="1.30" fill="#a3122f"/>
<circle cx="162.60" cy="524.60" r="1.30" fill="#a3122f"/>
<path d="M42.80,537.20 L54.78,537.20 L66.76,537.20 L78.74,537.20 L90.72,537.20 L102.70,537.20 L114.68,537.20 L126.66,537.20 L138.64,537.20 L150.62,537.20 L162.60,536.53" fill="none" stroke="#2a4a90" stroke-width="1.2" stroke-linejoin="round"/>
<path d="M41.04,535.92 L44.56,535.92 L42.80,538.96 Z" fill="#2a4a90"/>
<path d="M53.02,535.92 L56.54,535.92 L54.78,538.96 Z" fill="#2a4a90"/>
<path d="M65.00,535.92 L68.52,535.92 L66.76,538.96 Z" fill="#2a4a90"/>
<path d="M76.98,535.92 L80.50,535.92 L78.74,538.96 Z" fill="#2a4a90"/>
<path d="M88.96,535.92 L92.48,535.92 L90.72,538.96 Z" fill="#2a4a90"/>
<path d="M100.94,535.92 L104.46,535.92 L102.70,538.96 Z" fill="#2a4a90"/>
<path d="M112.92,535.92 L116.44,535.92 L114.68,538.96 Z" fill="#2a4a90"/>
<path d="M124.90,535.92 L128.42,535.92 L126.66,538.96 Z" fill="#2a4a90"/>
<path d="M136.88,535.92 L140.40,535.92 L138.64,538.96 Z" fill="#2a4a90"/>
<path d="M148.86,535.92 L152.38,535.92 L150.62,538.96 Z" fill="#2a4a90"/>
<path d="M160.84,535.25 L164.36,535.25 L162.60,538.29 Z" fill="#2a4a90"/>
</g>
<line x1="42.50" y1="521.60" x2="42.50" y2="604.60" stroke="#231f20" stroke-width="1.2" />
<line x1="42.20" y1="604.50" x2="163.10" y2="604.50" stroke="#231f20" stroke-width="1.2" />
<line x1="40.30" y1="604.50" x2="42.80" y2="604.50" stroke="#231f20" stroke-width="1" />
<line x1="40.30" y1="570.50" x2="42.80" y2="570.50" stroke="#231f20" stroke-width="1" />
<line x1="40.30" y1="537.50" x2="42.80" y2="537.50" stroke="#231f20" stroke-width="1" />
<line x1="40.30" y1="524.50" x2="42.80" y2="524.50" stroke="#231f20" stroke-width="1" />
<line x1="42.50" y1="604.00" x2="42.50" y2="606.50" stroke="#231f20" stroke-width="1" />
<line x1="102.50" y1="604.00" x2="102.50" y2="606.50" stroke="#231f20" stroke-width="1" />
<line x1="162.50" y1="604.00" x2="162.50" y2="606.50" stroke="#231f20" stroke-width="1" />
<text x="104.30" y="516.00" font-size="10.3" text-anchor="middle" fill="#231f20" stroke="#231f20" stroke-width="0.1" textLength="41.5" lengthAdjust="spacingAndGlyphs" >VEN/INO</text>
<line x1="83.20" y1="517.80" x2="125.40" y2="517.80" stroke="#231f20" stroke-width="0.7" />
<text transform="translate(19.90 564.30) rotate(-90) scale(0.8090 1)" x="0" y="0" font-size="10.0" text-anchor="middle" fill="#231f20"><tspan>Combination index</tspan></text>
<text x="37.00" y="529.30" font-size="9.0" text-anchor="end" fill="#231f20" stroke="#231f20" stroke-width="0.04" >≥1.2</text>
<text x="37.00" y="540.10" font-size="9.0" text-anchor="end" fill="#231f20" stroke="#231f20" stroke-width="0.04" >1.0</text>
<text x="37.00" y="573.70" font-size="9.0" text-anchor="end" fill="#231f20" stroke="#231f20" stroke-width="0.04" >0.5</text>
<text x="37.00" y="607.00" font-size="9.0" text-anchor="end" fill="#231f20" stroke="#231f20" stroke-width="0.04" >0.0</text>
<text x="0" y="0" font-size="9.3" text-anchor="middle" fill="#231f20" transform="translate(43.30 617.60) scale(0.95 1)" stroke="#231f20" stroke-width="0.04" >0.25</text>
<text x="0" y="0" font-size="9.3" text-anchor="middle" fill="#231f20" transform="translate(102.60 617.60) scale(0.95 1)" stroke="#231f20" stroke-width="0.04" >0.50</text>
<text x="0" y="0" font-size="9.3" text-anchor="middle" fill="#231f20" transform="translate(162.50 617.60) scale(0.95 1)" stroke="#231f20" stroke-width="0.04" >0.75</text>
<text x="0" y="0" font-size="9.6" text-anchor="middle" fill="#231f20" transform="translate(104.30 630.80) scale(0.8 1)" stroke="#231f20" stroke-width="0.04" >Fa</text>
<text x="184.50" y="506.00" font-size="14" text-anchor="start" fill="#000" stroke="#000" stroke-width="0.45" font-weight="bold" >J</text>
<rect x="222.20" y="525.30" width="119.40" height="12.20" fill="#c9d0df" />
<rect x="222.20" y="537.50" width="119.40" height="66.50" fill="#e8c0c8" />
<defs><clipPath id="cpJ"><rect x="218.2" y="523.6999999999999" width="127.40000000000003" height="82.70000000000005"/></clipPath></defs>
<g clip-path="url(#cpJ)">
<path d="M222.20,604.00 L234.14,604.00 L246.08,604.00 L258.02,604.00 L269.96,604.00 L281.90,604.00 L293.84,604.00 L305.78,604.00 L317.72,604.00 L329.66,604.00 L341.60,604.00" fill="none" stroke="#2a4a90" stroke-width="0.9" stroke-linejoin="round"/>
<path d="M220.88,603.04 L223.52,603.04 L222.20,605.32 Z" fill="#2a4a90"/>
<path d="M232.82,603.04 L235.46,603.04 L234.14,605.32 Z" fill="#2a4a90"/>
<path d="M244.76,603.04 L247.40,603.04 L246.08,605.32 Z" fill="#2a4a90"/>
<path d="M256.70,603.04 L259.34,603.04 L258.02,605.32 Z" fill="#2a4a90"/>
<path d="M268.64,603.04 L271.28,603.04 L269.96,605.32 Z" fill="#2a4a90"/>
<path d="M280.58,603.04 L283.22,603.04 L281.90,605.32 Z" fill="#2a4a90"/>
<path d="M292.52,603.04 L295.16,603.04 L293.84,605.32 Z" fill="#2a4a90"/>
<path d="M304.46,603.04 L307.10,603.04 L305.78,605.32 Z" fill="#2a4a90"/>
<path d="M316.40,603.04 L319.04,603.04 L317.72,605.32 Z" fill="#2a4a90"/>
<path d="M328.34,603.04 L330.98,603.04 L329.66,605.32 Z" fill="#2a4a90"/>
<path d="M340.28,603.04 L342.92,603.04 L341.60,605.32 Z" fill="#2a4a90"/>
<path d="M222.20,603.80 L234.14,603.80 L246.08,603.80 L258.02,603.80 L269.96,603.80 L281.90,603.80 L293.84,603.80 L305.78,603.80 L317.72,603.80 L329.66,603.80 L341.60,603.80" fill="none" stroke="#2f5e47" stroke-width="1.0" stroke-linejoin="round"/>
<circle cx="222.20" cy="603.80" r="0.80" fill="#2f5e47"/>
<circle cx="234.14" cy="603.80" r="0.80" fill="#2f5e47"/>
<circle cx="246.08" cy="603.80" r="0.80" fill="#2f5e47"/>
<circle cx="258.02" cy="603.80" r="0.80" fill="#2f5e47"/>
<circle cx="269.96" cy="603.80" r="0.80" fill="#2f5e47"/>
<circle cx="281.90" cy="603.80" r="0.80" fill="#2f5e47"/>
<circle cx="293.84" cy="603.80" r="0.80" fill="#2f5e47"/>
<circle cx="305.78" cy="603.80" r="0.80" fill="#2f5e47"/>
<circle cx="317.72" cy="603.80" r="0.80" fill="#2f5e47"/>
<circle cx="329.66" cy="603.80" r="0.80" fill="#2f5e47"/>
<circle cx="341.60" cy="603.80" r="0.80" fill="#2f5e47"/>
<path d="M222.20,525.30 L234.14,525.30 L246.08,525.30 L258.02,525.30 L269.96,525.30 L281.90,525.30 L293.84,525.30 L305.78,528.19 L317.72,535.50 L329.66,542.15 L341.60,548.41" fill="none" stroke="#a09aa0" stroke-width="0.7" stroke-linejoin="round"/>
<circle cx="222.20" cy="525.30" r="0.70" fill="#a09aa0"/>
<circle cx="234.14" cy="525.30" r="0.70" fill="#a09aa0"/>
<circle cx="246.08" cy="525.30" r="0.70" fill="#a09aa0"/>
<circle cx="258.02" cy="525.30" r="0.70" fill="#a09aa0"/>
<circle cx="269.96" cy="525.30" r="0.70" fill="#a09aa0"/>
<circle cx="281.90" cy="525.30" r="0.70" fill="#a09aa0"/>
<circle cx="293.84" cy="525.30" r="0.70" fill="#a09aa0"/>
<circle cx="305.78" cy="528.19" r="0.70" fill="#a09aa0"/>
<circle cx="317.72" cy="535.50" r="0.70" fill="#a09aa0"/>
<circle cx="329.66" cy="542.15" r="0.70" fill="#a09aa0"/>
<circle cx="341.60" cy="548.41" r="0.70" fill="#a09aa0"/>
<path d="M269.96,507.57 L281.90,529.52 L293.84,540.16 L305.78,548.41 L317.72,553.99 L329.66,557.45 L341.60,557.45" fill="none" stroke="#7aa63e" stroke-width="0.9" stroke-linejoin="round"/>
<circle cx="281.90" cy="529.52" r="0.90" fill="#7aa63e"/>
<circle cx="293.84" cy="540.16" r="0.90" fill="#7aa63e"/>
<circle cx="305.78" cy="548.41" r="0.90" fill="#7aa63e"/>
<circle cx="317.72" cy="553.99" r="0.90" fill="#7aa63e"/>
<circle cx="329.66" cy="557.45" r="0.90" fill="#7aa63e"/>
<circle cx="341.60" cy="557.45" r="0.90" fill="#7aa63e"/>
<path d="M269.96,512.23 L281.90,534.17 L293.84,548.80 L305.78,559.18 L317.72,567.62 L329.66,573.61 L341.60,578.33" fill="none" stroke="#a3122f" stroke-width="1.0" stroke-linejoin="round"/>
<circle cx="281.90" cy="534.17" r="1.20" fill="#a3122f"/>
<circle cx="293.84" cy="548.80" r="1.20" fill="#a3122f"/>
<circle cx="305.78" cy="559.18" r="1.20" fill="#a3122f"/>
<circle cx="317.72" cy="567.62" r="1.20" fill="#a3122f"/>
<circle cx="329.66" cy="573.61" r="1.20" fill="#a3122f"/>
<circle cx="341.60" cy="578.33" r="1.20" fill="#a3122f"/>
<path d="M222.20,566.10 L234.14,565.90 L246.08,565.43 L258.02,564.96 L269.96,564.76 L281.90,564.10 L293.84,563.63 L305.78,563.24 L317.72,562.77 L329.66,562.11 L341.60,561.71" fill="none" stroke="#d3187c" stroke-width="1.2" stroke-linejoin="round"/>
<circle cx="222.20" cy="566.10" r="1.10" fill="#d3187c"/>
<circle cx="234.14" cy="565.90" r="1.10" fill="#d3187c"/>
<circle cx="246.08" cy="565.43" r="1.10" fill="#d3187c"/>
<circle cx="258.02" cy="564.96" r="1.10" fill="#d3187c"/>
<circle cx="269.96" cy="564.76" r="1.10" fill="#d3187c"/>
<circle cx="281.90" cy="564.10" r="1.10" fill="#d3187c"/>
<circle cx="293.84" cy="563.63" r="1.10" fill="#d3187c"/>
<circle cx="305.78" cy="563.24" r="1.10" fill="#d3187c"/>
<circle cx="317.72" cy="562.77" r="1.10" fill="#d3187c"/>
<circle cx="329.66" cy="562.11" r="1.10" fill="#d3187c"/>
<circle cx="341.60" cy="561.71" r="1.10" fill="#d3187c"/>
<path d="M222.20,566.10 L234.14,568.75 L246.08,571.08 L258.02,573.08 L269.96,574.74 L281.90,576.20 L293.84,577.60 L305.78,579.53 L317.72,580.99 L329.66,582.19 L341.60,583.19" fill="none" stroke="#e0907f" stroke-width="0.9" stroke-linejoin="round"/>
<path d="M220.88,567.06 L223.52,567.06 L222.20,564.77 Z" fill="#e0907f"/>
<path d="M232.82,569.72 L235.46,569.72 L234.14,567.43 Z" fill="#e0907f"/>
<path d="M244.76,572.04 L247.40,572.04 L246.08,569.76 Z" fill="#e0907f"/>
<path d="M256.70,574.04 L259.34,574.04 L258.02,571.76 Z" fill="#e0907f"/>
<path d="M268.64,575.70 L271.28,575.70 L269.96,573.42 Z" fill="#e0907f"/>
<path d="M280.58,577.16 L283.22,577.16 L281.90,574.88 Z" fill="#e0907f"/>
<path d="M292.52,578.56 L295.16,578.56 L293.84,576.28 Z" fill="#e0907f"/>
<path d="M304.46,580.49 L307.10,580.49 L305.78,578.21 Z" fill="#e0907f"/>
<path d="M316.40,581.95 L319.04,581.95 L317.72,579.67 Z" fill="#e0907f"/>
<path d="M328.34,583.15 L330.98,583.15 L329.66,580.87 Z" fill="#e0907f"/>
<path d="M340.28,584.15 L342.92,584.15 L341.60,581.87 Z" fill="#e0907f"/>
<path d="M222.20,592.89 L234.14,590.70 L246.08,588.37 L258.02,586.18 L269.96,583.72 L281.90,580.99 L293.84,578.07 L305.78,574.34 L317.72,569.95 L329.66,564.76 L341.60,558.78" fill="none" stroke="#4b3653" stroke-width="0.9" stroke-linejoin="round"/>
<path d="M222.20,591.20 L223.50,592.89 L222.20,594.58 L220.90,592.89 Z" fill="#4b3653"/>
<path d="M234.14,589.01 L235.44,590.70 L234.14,592.39 L232.84,590.70 Z" fill="#4b3653"/>
<path d="M246.08,586.68 L247.38,588.37 L246.08,590.06 L244.78,588.37 Z" fill="#4b3653"/>
<path d="M258.02,584.49 L259.32,586.18 L258.02,587.87 L256.72,586.18 Z" fill="#4b3653"/>
<path d="M269.96,582.03 L271.26,583.72 L269.96,585.41 L268.66,583.72 Z" fill="#4b3653"/>
<path d="M281.90,579.30 L283.20,580.99 L281.90,582.68 L280.60,580.99 Z" fill="#4b3653"/>
<path d="M293.84,576.38 L295.14,578.07 L293.84,579.76 L292.54,578.07 Z" fill="#4b3653"/>
<path d="M305.78,572.65 L307.08,574.34 L305.78,576.03 L304.48,574.34 Z" fill="#4b3653"/>
<path d="M317.72,568.26 L319.02,569.95 L317.72,571.64 L316.42,569.95 Z" fill="#4b3653"/>
<path d="M329.66,563.07 L330.96,564.76 L329.66,566.46 L328.36,564.76 Z" fill="#4b3653"/>
<path d="M341.60,557.09 L342.90,558.78 L341.60,560.47 L340.30,558.78 Z" fill="#4b3653"/>
<path d="M222.20,589.90 L234.14,591.83 L246.08,592.63 L258.02,593.63 L269.96,594.29 L281.90,595.09 L293.84,596.29 L305.78,597.02 L317.72,597.62 L329.66,598.01 L341.60,598.81" fill="none" stroke="#f2b877" stroke-width="0.9" stroke-linejoin="round"/>
<path d="M221.10,590.70 L223.30,590.70 L222.20,588.80 Z" fill="#f2b877"/>
<path d="M233.04,592.63 L235.24,592.63 L234.14,590.73 Z" fill="#f2b877"/>
<path d="M244.98,593.43 L247.18,593.43 L246.08,591.53 Z" fill="#f2b877"/>
<path d="M256.92,594.43 L259.12,594.43 L258.02,592.53 Z" fill="#f2b877"/>
<path d="M268.86,595.09 L271.06,595.09 L269.96,593.19 Z" fill="#f2b877"/>
<path d="M280.80,595.89 L283.00,595.89 L281.90,593.99 Z" fill="#f2b877"/>
<path d="M292.74,597.09 L294.94,597.09 L293.84,595.19 Z" fill="#f2b877"/>
<path d="M304.68,597.82 L306.88,597.82 L305.78,595.92 Z" fill="#f2b877"/>
<path d="M316.62,598.42 L318.82,598.42 L317.72,596.52 Z" fill="#f2b877"/>
<path d="M328.56,598.81 L330.76,598.81 L329.66,596.91 Z" fill="#f2b877"/>
<path d="M340.50,599.61 L342.70,599.61 L341.60,597.71 Z" fill="#f2b877"/>
<path d="M222.20,565.90 L234.14,571.08 L246.08,575.07 L258.02,578.40 L269.96,580.99 L281.90,582.85 L293.84,584.38 L305.78,585.71 L317.72,586.18 L329.66,585.91 L341.60,584.98" fill="none" stroke="#e2831c" stroke-width="1.1" stroke-linejoin="round"/>
<rect x="220.50" y="564.20" width="3.40" height="3.40" fill="#e2831c"/>
<rect x="232.44" y="569.38" width="3.40" height="3.40" fill="#e2831c"/>
<rect x="244.38" y="573.37" width="3.40" height="3.40" fill="#e2831c"/>
<rect x="256.32" y="576.70" width="3.40" height="3.40" fill="#e2831c"/>
<rect x="268.26" y="579.29" width="3.40" height="3.40" fill="#e2831c"/>
<rect x="280.20" y="581.15" width="3.40" height="3.40" fill="#e2831c"/>
<rect x="292.14" y="582.68" width="3.40" height="3.40" fill="#e2831c"/>
<rect x="304.08" y="584.01" width="3.40" height="3.40" fill="#e2831c"/>
<rect x="316.02" y="584.48" width="3.40" height="3.40" fill="#e2831c"/>
<rect x="327.96" y="584.21" width="3.40" height="3.40" fill="#e2831c"/>
<rect x="339.90" y="583.28" width="3.40" height="3.40" fill="#e2831c"/>
<path d="M222.20,592.89 L234.14,596.88 L246.08,599.21 L258.02,600.28 L269.96,600.61 L281.90,600.48 L293.84,599.48 L305.78,598.01 L317.72,594.69 L329.66,588.71 L341.60,578.07" fill="none" stroke="#7a90d8" stroke-width="0.9" stroke-linejoin="round"/>
<circle cx="222.20" cy="592.89" r="1.50" fill="#7a90d8"/>
<circle cx="234.14" cy="596.88" r="1.50" fill="#7a90d8"/>
<circle cx="246.08" cy="599.21" r="1.50" fill="#7a90d8"/>
<circle cx="258.02" cy="600.28" r="1.50" fill="#7a90d8"/>
<circle cx="269.96" cy="600.61" r="1.50" fill="#7a90d8"/>
<circle cx="281.90" cy="600.48" r="1.50" fill="#7a90d8"/>
<circle cx="293.84" cy="599.48" r="1.50" fill="#7a90d8"/>
<circle cx="305.78" cy="598.01" r="1.50" fill="#7a90d8"/>
<circle cx="317.72" cy="594.69" r="1.50" fill="#7a90d8"/>
<circle cx="329.66" cy="588.71" r="1.50" fill="#7a90d8"/>
<circle cx="341.60" cy="578.07" r="1.50" fill="#7a90d8"/>
</g>
<line x1="222.50" y1="522.30" x2="222.50" y2="604.60" stroke="#231f20" stroke-width="1.2" />
<line x1="221.60" y1="604.50" x2="342.10" y2="604.50" stroke="#231f20" stroke-width="1.2" />
<line x1="219.70" y1="604.50" x2="222.20" y2="604.50" stroke="#231f20" stroke-width="1" />
<line x1="219.70" y1="570.50" x2="222.20" y2="570.50" stroke="#231f20" stroke-width="1" />
<line x1="219.70" y1="537.50" x2="222.20" y2="537.50" stroke="#231f20" stroke-width="1" />
<line x1="219.70" y1="525.50" x2="222.20" y2="525.50" stroke="#231f20" stroke-width="1" />
<line x1="222.50" y1="604.00" x2="222.50" y2="606.50" stroke="#231f20" stroke-width="1" />
<line x1="281.50" y1="604.00" x2="281.50" y2="606.50" stroke="#231f20" stroke-width="1" />
<line x1="341.50" y1="604.00" x2="341.50" y2="606.50" stroke="#231f20" stroke-width="1" />
<text x="283.80" y="516.90" font-size="10.3" text-anchor="middle" fill="#231f20" stroke="#231f20" stroke-width="0.1" textLength="66.5" lengthAdjust="spacingAndGlyphs" >VEN/DEX/INO</text>
<line x1="250.50" y1="518.50" x2="317.00" y2="518.50" stroke="#231f20" stroke-width="0.7" />
<text transform="translate(198.90 564.30) rotate(-90) scale(0.8090 1)" x="0" y="0" font-size="10.0" text-anchor="middle" fill="#231f20"><tspan>Combination index</tspan></text>
<text x="216.40" y="529.30" font-size="9.0" text-anchor="end" fill="#231f20" stroke="#231f20" stroke-width="0.04" >≥1.2</text>
<text x="218.00" y="540.60" font-size="9.0" text-anchor="end" fill="#231f20" stroke="#231f20" stroke-width="0.04" >1.0</text>
<text x="218.00" y="573.70" font-size="9.0" text-anchor="end" fill="#231f20" stroke="#231f20" stroke-width="0.04" >0.5</text>
<text x="218.00" y="606.90" font-size="9.0" text-anchor="end" fill="#231f20" stroke="#231f20" stroke-width="0.04" >0.0</text>
<text x="0" y="0" font-size="9.3" text-anchor="middle" fill="#231f20" transform="translate(221.50 617.60) scale(0.95 1)" stroke="#231f20" stroke-width="0.04" >0.25</text>
<text x="0" y="0" font-size="9.3" text-anchor="middle" fill="#231f20" transform="translate(281.60 617.60) scale(0.95 1)" stroke="#231f20" stroke-width="0.04" >0.50</text>
<text x="0" y="0" font-size="9.3" text-anchor="middle" fill="#231f20" transform="translate(341.50 617.60) scale(0.95 1)" stroke="#231f20" stroke-width="0.04" >0.75</text>
<text x="0" y="0" font-size="9.6" text-anchor="middle" fill="#231f20" transform="translate(283.40 631.60) scale(0.8 1)" stroke="#231f20" stroke-width="0.04" >Fa</text>
<line x1="353.0" y1="512.60" x2="366.4" y2="512.60" stroke="#5f917a" stroke-width="1.7" opacity="0.8"/>
<circle cx="359.70" cy="512.60" r="1.30" fill="#27342c"/>
<text x="369.70" y="515.60" font-size="8.3" text-anchor="start" fill="#231f20" stroke="#231f20" stroke-width="0.1" >*019</text>
<line x1="353.0" y1="524.20" x2="366.4" y2="524.20" stroke="#a3122f" stroke-width="1.7" opacity="0.8"/>
<circle cx="359.70" cy="524.20" r="1.30" fill="#a3122f"/>
<text x="369.70" y="527.20" font-size="8.3" text-anchor="start" fill="#231f20" stroke="#231f20" stroke-width="0.1" >*020</text>
<line x1="353.0" y1="535.80" x2="366.4" y2="535.80" stroke="#d3187c" stroke-width="1.7" opacity="0.8"/>
<circle cx="359.70" cy="535.80" r="1.30" fill="#d3187c"/>
<text x="369.70" y="538.80" font-size="8.3" text-anchor="start" fill="#231f20" stroke="#231f20" stroke-width="0.1" >*021</text>
<line x1="353.0" y1="547.40" x2="366.4" y2="547.40" stroke="#f2b877" stroke-width="1.7" opacity="0.8"/>
<path d="M358.27,548.44 L361.13,548.44 L359.70,545.97 Z" fill="#f2b877"/>
<text x="369.70" y="550.40" font-size="8.3" text-anchor="start" fill="#231f20" stroke="#231f20" stroke-width="0.1" >*029</text>
<line x1="353.0" y1="559.00" x2="366.4" y2="559.00" stroke="#6fa84a" stroke-width="1.7" opacity="0.8"/>
<circle cx="359.70" cy="559.00" r="1.30" fill="#6fa84a"/>
<text x="369.70" y="562.00" font-size="8.3" text-anchor="start" fill="#231f20" stroke="#231f20" stroke-width="0.1" >L05</text>
<line x1="353.0" y1="570.60" x2="366.4" y2="570.60" stroke="#6aaae6" stroke-width="1.7" opacity="0.8"/>
<circle cx="359.70" cy="570.60" r="1.70" fill="#6aaae6"/>
<text x="369.70" y="573.60" font-size="8.3" text-anchor="start" fill="#231f20" stroke="#231f20" stroke-width="0.1" >L20</text>
<line x1="353.0" y1="582.20" x2="366.4" y2="582.20" stroke="#e2831c" stroke-width="1.7" opacity="0.8"/>
<rect x="358.10" y="580.60" width="3.20" height="3.20" fill="#e2831c"/>
<text x="369.70" y="585.20" font-size="8.3" text-anchor="start" fill="#231f20" stroke="#231f20" stroke-width="0.1" >*037</text>
<line x1="353.0" y1="593.80" x2="366.4" y2="593.80" stroke="#e0907f" stroke-width="1.7" opacity="0.8"/>
<path d="M358.27,594.84 L361.13,594.84 L359.70,592.37 Z" fill="#e0907f"/>
<text x="369.70" y="596.80" font-size="8.3" text-anchor="start" fill="#231f20" stroke="#231f20" stroke-width="0.1" >*036</text>
<line x1="353.0" y1="605.40" x2="366.4" y2="605.40" stroke="#2a4a90" stroke-width="1.7" opacity="0.8"/>
<path d="M358.05,604.20 L361.35,604.20 L359.70,607.05 Z" fill="#2a4a90"/>
<text x="369.70" y="608.40" font-size="8.3" text-anchor="start" fill="#231f20" stroke="#231f20" stroke-width="0.1" >P020</text>
<line x1="353.0" y1="617.00" x2="366.4" y2="617.00" stroke="#3d3f5e" stroke-width="1.7" opacity="0.8"/>
<path d="M359.70,615.31 L361.00,617.00 L359.70,618.69 L358.40,617.00 Z" fill="#3d3f5e"/>
<text x="369.70" y="620.00" font-size="8.3" text-anchor="start" fill="#231f20" stroke="#231f20" stroke-width="0.1" >P021</text>
<line x1="353.0" y1="628.60" x2="366.4" y2="628.60" stroke="#b8b0b8" stroke-width="1.7" opacity="0.8"/>
<circle cx="359.70" cy="628.60" r="1.30" fill="#b8b0b8"/>
<text x="369.70" y="631.60" font-size="8.3" text-anchor="start" fill="#231f20" stroke="#231f20" stroke-width="0.1" >L707</text>
<rect x="0.5" y="0.5" width="519" height="640" fill="none" stroke="#000" stroke-width="1.3"/>
</svg></body></html>
